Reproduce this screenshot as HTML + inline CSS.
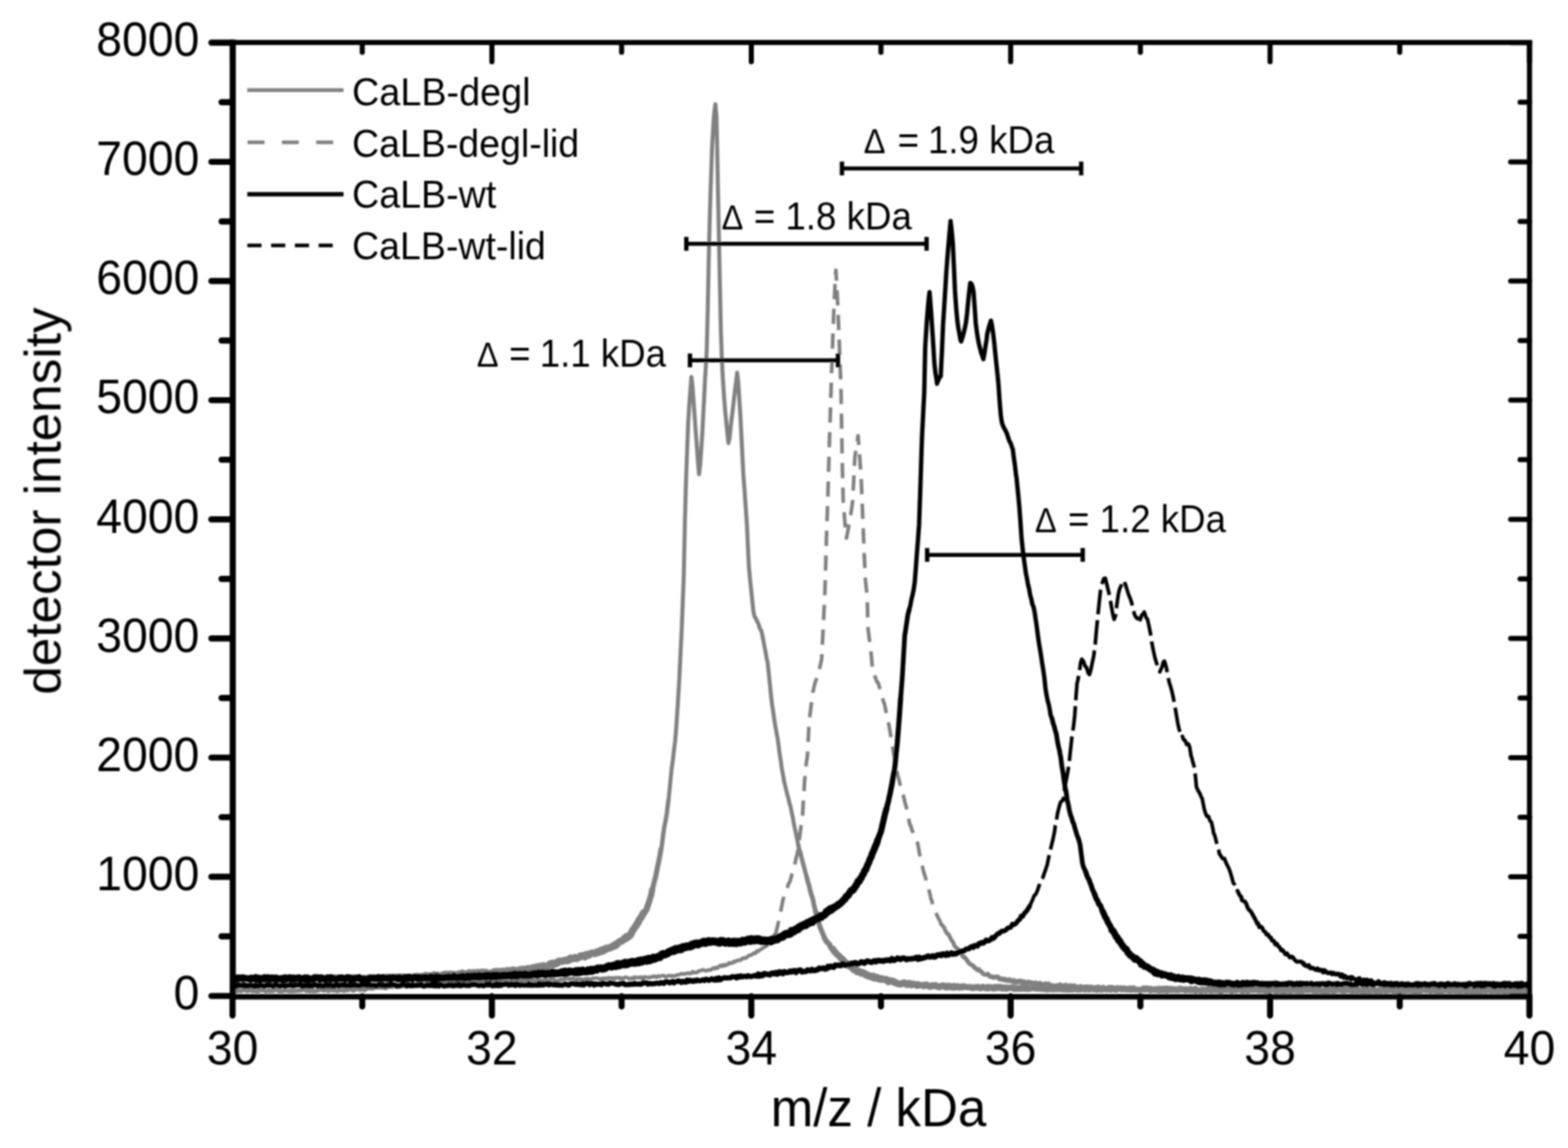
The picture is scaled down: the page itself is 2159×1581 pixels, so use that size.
<!DOCTYPE html><html><head><meta charset="utf-8"><title>CaLB mass spectra</title><style>html,body{margin:0;padding:0;background:#fff;overflow:hidden}svg{display:block}</style></head><body>
<svg width="2159" height="1581" viewBox="0 0 2159 1581">
<rect width="2159" height="1581" fill="#fff"/>
<filter id="soft" x="0" y="0" width="2159" height="1581" filterUnits="userSpaceOnUse"><feGaussianBlur stdDeviation="1.0"/></filter>
<g filter="url(#soft)">
<defs><clipPath id="pa"><rect x="320" y="58" width="1786" height="1314"/></clipPath></defs>
<g clip-path="url(#pa)" fill="none" stroke-linejoin="round" stroke-linecap="butt">
<path d="M594 1355.1 L596 1353.6 L598 1354.5 L600 1353.7 L602 1353.1 L604 1352.8 L606 1355.2 L608 1354.5 L610 1353.1 M610 1353.1 L612 1353.2 L614 1353.7 L616 1354.7 L618 1352.6 L620 1355 L622 1354.8 L624 1352.8 L626 1353.9 M626 1353.9 L628 1353 L630 1353.9 L632 1352.1 L634 1353.1 L636 1353.4 L638 1353.4 L640 1353.5 L642 1354 M642 1354 L644 1352.1 L646 1351.8 L648 1352.4 L650 1352.9 L652 1353.9 L654 1353.1 L656 1353.1 L658 1353.7 M658 1353.7 L660 1351.7 L662 1351.6 L664 1352 L666 1351.6 L668 1352.5 L670 1353.3 L672 1351 L674 1351.9 M674 1351.9 L676 1352.3 L678 1351.7 L680 1352.8 L682 1352.3 L684 1352.6 L686 1350.4 L688 1350.5 L690 1350.1 M690 1350.1 L692 1352.2 L694 1352.5 L696 1349.8 L698 1351.9 L700 1351.6 L702 1352.1 L704 1350.3 L706 1351.4 M706 1351.4 L708 1350.1 L710 1349.6 L712 1351.4 L714 1349.4 L716 1351.1 L718 1349.9 L720 1350.5 L722 1351.5 M722 1351.5 L724 1349.7 L726 1350.2 L728 1349.9 L730 1349.4 L732 1350.1 L734 1349.2 L736 1350.9 L738 1350.4 M738 1350.4 L740 1349.4 L742 1351.3 L744 1349.5 L746 1350.3 L748 1350.4 L750 1349.1 L752 1348.3 L754 1350.7 M754 1350.7 L756 1350.9 L758 1348.6 L760 1348.5 L762 1349.2 L764 1349.7 L766 1350.7 L768 1350.6 L770 1350.6 M770 1350.6 L772 1348.5 L774 1349.4 L776 1348.9 L778 1348.3 L780 1347.8 L782 1348 L784 1348.5 L786 1347.7 M786 1347.7 L788 1347.8 L790 1347.5 L792 1349 L794 1348.6 L796 1347.9 L798 1348.6 L800 1348.3 L802 1348.9 M802 1348.9 L804 1349.6 L806 1347.9 L808 1348.7 L810 1347.5 L812 1349.5 L814 1348.5 L816 1347.2 L818 1347.4 M818 1347.4 L820 1347.1 L822 1347.1 L824 1347.4 L826 1348.8 L828 1347.7 L830 1347.2 L832 1347.5 L834 1347.1 M834 1347.1 L836 1348.3 L838 1346.4 L840 1347 L842 1347.1 L844 1346.6 L846 1348.1 L848 1346.5 L850 1346.8 M850 1346.8 L852 1346.1 L854 1348 L856 1346.8 L858 1347.6 L860 1346.3 L862 1345.7 L864 1346.5 L866 1347.8 M866 1347.8 L868 1347.9 L870 1346.5 L872 1347.8 L874 1345.5 L876 1346.8 L878 1346 L880 1346.5 L882 1345.8 M882 1345.8 L884 1347.6 L885 1345.9 L886 1347.7 L888 1345.2 L890 1346 L892 1345.9 L894 1346.5 L896 1345.4 M896 1345.4 L898 1345.7 L900 1344.3 L902 1344.9 L904 1345.9 L906 1344 L908 1344.9 L910 1344.1 L912 1343.8 M912 1343.8 L914 1343.5 L916 1345.3 L918 1344.8 L920 1343.8 L922 1343.7 L924 1344.4 L926 1343.7 L928 1344.3 M928 1344.3 L930 1344 L932 1342.5 L934 1342.7 L936 1342 L938 1341.1 L940 1341.2 L942 1341.6 L944 1340.8 M944 1340.8 L946 1340.7 L948 1340 L950 1341 L952 1340.2 L954 1338 L956 1339.6 L958 1339.6 L960 1339 M960 1339 L962 1337.3 L964 1337 L966 1336.3 L968 1335.5 L970 1336.3 L972 1337 L974 1336.4 L976 1335.8 M976 1335.8 L978 1336 L980 1334.9 L982 1333.1 L984 1334.1 L986 1332.3 L988 1333.2 L990 1331 L992 1329.7 M992 1329.7 L994 1330.9 L996 1328.6 L998 1330.1 L1000 1328.2 L1002 1328.6 L1004 1325.9 L1006 1326.7 L1008 1326.4 M1008 1326.4 L1010 1324.2 L1012 1324.9 L1014 1323 L1016 1322.8 L1018 1322.3 L1020 1322.3 L1022 1320 L1024 1319.2 M1024 1319.2 L1026 1319.9 L1028 1318.7 L1030 1317 L1032 1315.5 L1034 1315.6 L1036 1314 L1038 1312.5 L1040 1313 M1040 1313 L1042 1309.8 L1044 1310.2 L1046 1308.3 L1048 1307.1 L1050 1305.8 L1052 1304.6 L1054 1303.6 L1056 1302.2 M1056 1302.2 L1058 1298.9 L1060 1297.1 L1062 1296.1 L1064 1291 L1066 1287.8" stroke="#808080" stroke-width="5.0" stroke-linecap="round"/>
<path d="M578 1356 L580 1354.7 L582 1356.3 L584 1355.1 L586 1356.1 L588 1353.4 L590 1355.7 L592 1354.7 L594 1355.1" stroke="#808080" stroke-width="5.5" stroke-linecap="round"/>
<path d="M322 1363.8 L324 1363.9 L326 1365.4 L328 1363.3 L330 1364.8 L332 1365.1 L334 1363.6 L336 1363.2 L338 1363.8 M338 1363.8 L340 1364.9 L342 1364.6 L344 1363.5 L346 1364.2 L348 1364.9 L350 1364.2 L352 1364.8 L354 1365.7 M354 1365.7 L356 1364.9 L358 1364.1 L360 1363.5 L362 1363.9 L364 1364.4 L366 1365.5 L368 1365.1 L370 1363.8 M370 1363.8 L372 1365.5 L374 1364.2 L376 1364.9 L378 1363.2 L380 1363.2 L382 1363.5 L384 1365.4 L386 1364.8 M386 1364.8 L388 1365.3 L390 1364.7 L392 1364 L394 1364.3 L396 1364.5 L398 1365.2 L400 1364.1 L402 1365.3 M402 1365.3 L404 1364.5 L406 1365.1 L408 1364.2 L410 1364.7 L412 1363.7 L414 1364.2 L416 1363.4 L418 1363 M418 1363 L420 1362.8 L422 1364.7 L424 1364 L426 1365.2 L428 1365 L430 1363.8 L432 1365.4 L434 1364.3 M434 1364.3 L436 1364.8 L438 1363.8 L440 1363.2 L442 1363.1 L444 1363.1 L446 1364.3 L448 1362.9 L450 1362.7 M450 1362.7 L452 1364.9 L454 1362.8 L456 1363.7 L458 1363.8 L460 1364.1 L462 1363.7 L464 1364.9 L466 1364.3 M466 1364.3 L468 1363.7 L470 1363.8 L472 1363.4 L474 1364.6 L476 1362.5 L478 1363.7 L480 1363.3 L482 1361.8 M482 1361.8 L484 1362.5 L486 1364.2 L488 1363.7 L490 1361.5 L492 1362.2 L494 1361.3 L496 1363.6 L498 1361.5 M498 1361.5 L500 1361.3 L502 1363.7 L504 1362 L506 1361.4 L508 1360.5 L510 1361.3 L512 1361 L514 1361.2 M514 1361.2 L516 1359.6 L518 1359.8 L520 1359.7 L522 1360.2 L524 1359.6 L526 1360.2 L528 1359.1 L530 1360.7 M530 1360.7 L532 1360.6 L534 1357.9 L536 1358.1 L538 1358.9 L540 1359.3 L542 1357.1 L544 1357.3 L546 1357.8 M546 1357.8 L548 1358.3 L550 1358.7 L552 1358.4 L554 1358.1 L556 1355.8 L558 1358.2 L560 1357 L562 1355.4 M562 1355.4 L564 1355.7 L566 1356.5 L568 1355.7 L570 1355.7 L572 1356.5 L574 1356.4 L576 1355.4 L578 1356" stroke="#808080" stroke-width="6.0" stroke-linecap="round"/>
<path d="M1296 1272.9 L1298 1274.7 L1300 1277.7 L1302 1282 L1304 1285.8 L1306 1286.5 L1308 1290.8 L1310 1294.8 L1312 1297.1 M1312 1297.1 L1314 1302.3 L1316 1304.7 L1318 1305.9 L1320 1308.6 L1322 1311 L1324 1314.3 L1326 1318 L1328 1318.2" stroke="#808080" stroke-width="5.5" stroke-linecap="round"/>
<path d="M1328 1318.2 L1330 1320.6 L1332 1323.1 L1334 1326.3 L1336 1327.6 L1338 1329.1 L1340 1329.8 L1342 1333.1 L1344 1333.6 M1344 1333.6 L1346 1336.1 L1348 1335.1 L1350 1337.7 L1352 1338.8 L1354 1341.4 L1355.7 1342 L1358 1342.2 L1360 1341.8" stroke="#808080" stroke-width="6.0" stroke-linecap="round"/>
<path d="M1360 1341.8 L1362 1343.8 L1364 1344.9 L1366 1345.1 L1368 1346.2 L1370 1345.7 L1372 1345.4 L1374 1345.6 L1376 1347.8" stroke="#808080" stroke-width="6.5" stroke-linecap="round"/>
<path d="M1376 1347.8 L1378 1348.3 L1380 1348.3 L1382 1349.2 L1384 1348.8 L1386 1350.2 L1388 1350.2 L1390 1349.3 L1392 1350.7 M1392 1350.7 L1394 1351.3 L1396 1350.4 L1398 1352.8 L1400 1352.9 L1402 1351.2 L1404 1351.7 L1406 1351.3 L1408 1354.1 M1408 1354.1 L1410 1352.2 L1412 1354.2 L1414 1353.5 L1416 1352.5 L1418 1353.1 L1420 1353.4 L1422 1355 L1424 1354.1 M1424 1354.1 L1426 1353.7 L1428 1356.1 L1430 1355.1 L1432 1354.1 L1434 1356.8 L1436 1356.2 L1438 1355.7 L1440 1355.1 M1440 1355.1 L1442 1356.8 L1444 1355.3 L1446 1357.9 L1448 1357.5 L1450 1357.6 L1452 1357.9 L1454 1358.3 L1456 1357.3 M1456 1357.3 L1458 1358.4 L1460 1356.5 L1462 1358.3 L1464 1358.6 L1466 1357.2 L1468 1357 L1470 1359.4 L1472 1359.5 M1472 1359.5 L1474 1357.4 L1476 1358.9 L1478 1357.8 L1480 1358 L1482 1360.2 L1484 1359.5 L1486 1359.9 L1488 1358.7 M1488 1358.7 L1490 1360.2 L1492 1360 L1494 1359.2 L1496 1359.8 L1498 1359.2 L1500 1360.3 L1502 1359.2 L1504 1360 M1504 1360 L1506 1361.2 L1508 1360.8 L1510 1360.7 L1512 1359.4 L1514 1361.5 L1516 1361 L1518 1362 L1520 1362.1 M1520 1362.1 L1522 1362.1 L1524 1361.1 L1526 1361.9 L1528 1360.1 L1530 1360 L1532 1362.2 L1534 1361.9 L1536 1362.8 M1536 1362.8 L1538 1361.1 L1540 1361.7 L1542 1362.6 L1544 1362.2 L1546 1362.9 L1548 1361.7 L1550 1363.1 L1552 1363.2 M1552 1363.2 L1554 1363.4 L1556 1362.1 L1558 1363.6 L1560 1362 L1562 1362.9 L1564 1364 L1566 1363.2 L1568 1363.1 M1568 1363.1 L1570 1362.5 L1572 1363 L1574 1363.1 L1576 1363.7 L1578 1363.3 L1580 1362.8 L1582 1362.5 L1584 1364.8 M1584 1364.8 L1586 1363.9 L1588 1362.7 L1590 1363.2 L1592 1364.2 L1594 1363.1 L1596 1365 L1598 1364 L1600 1364.5 M1600 1364.5 L1602 1364.5 L1604 1363.1 L1606 1365.2 L1608 1365 L1610 1363.1 L1612 1364.3 L1614 1364.2 L1616 1363.6 M1616 1363.6 L1618 1363.8 L1620 1363.4 L1622 1364.5 L1624 1363.9 L1626 1363 L1628 1363.4 L1630 1363.2 L1632 1364.6 M1632 1364.6 L1634 1364.4 L1636 1363.9 L1638 1364.4 L1640 1364.6 L1642 1363.5 L1644 1363 L1646 1365.6 L1648 1363.4 M1648 1363.4 L1650 1363.6 L1652 1364.9 L1654 1365.7 L1656 1363.3 L1658 1364.1 L1660 1365.3 L1662 1363.2 L1664 1363.7 M1664 1363.7 L1666 1364.7 L1668 1365.3 L1670 1363.3 L1672 1364.2 L1674 1364.7 L1676 1364.6 L1678 1364.5 L1680 1365.8 M1680 1365.8 L1682 1365.8 L1684 1363.7 L1686 1363.8 L1688 1364.2 L1690 1363.4 L1692 1363.5 L1694 1364.7 L1696 1365.9 M1696 1365.9 L1698 1364 L1700 1363.7 L1702 1364.9 L1704 1364 L1706 1363.2 L1708 1363.5 L1710 1365.7 L1712 1363.5 M1712 1363.5 L1714 1365 L1716 1364.4 L1718 1365.4 L1720 1364.7 L1722 1363.9 L1724 1363.9 L1726 1363.9 L1728 1364 M1728 1364 L1730 1364 L1732 1364.2 L1734 1365 L1736 1364.8 L1738 1363.5 L1740 1364.5 L1742 1366 L1744 1366 M1744 1366 L1746 1364.3 L1748 1363.8 L1750 1364.2 L1752 1363.8 L1754 1364.1 L1756 1366 L1758 1365.9 L1760 1364.7 M1760 1364.7 L1762 1365 L1764 1365.4 L1766 1365.4 L1768 1365.4 L1770 1365.5 L1772 1365.1 L1774 1363.9 L1776 1365.4 M1776 1365.4 L1778 1365.4 L1780 1364 L1782 1364.1 L1784 1365.3 L1786 1364.6 L1788 1365.8 L1790 1364.3 L1792 1365.4 M1792 1365.4 L1794 1365.3 L1796 1363.9 L1798 1364.4 L1800 1364.6 L1802 1364.4 L1804 1363.9 L1806 1364.3 L1808 1365.1 M1808 1365.1 L1810 1364.2 L1812 1365.4 L1814 1364.8 L1816 1364.9 L1818 1364.2 L1820 1365.8 L1822 1363.8 L1824 1366.2 M1824 1366.2 L1826 1365.3 L1828 1366.2 L1830 1365.1 L1832 1364.6 L1834 1364.6 L1836 1366.2 L1838 1365.1 L1840 1364.7 M1840 1364.7 L1842 1364 L1844 1364 L1846 1364.8 L1848 1364.9 L1850 1365.9 L1852 1363.9 L1854 1364.9 L1856 1364 M1856 1364 L1858 1364.3 L1860 1365 L1862 1366.1 L1864 1364 L1866 1364.1 L1868 1365.6 L1870 1365.1 L1872 1363.8 M1872 1363.8 L1874 1365.5 L1876 1366.3 L1878 1365.7 L1880 1366.4 L1882 1365.7 L1884 1364.5 L1886 1365.8 L1888 1365.2 M1888 1365.2 L1890 1363.9 L1892 1364.6 L1894 1366.2 L1896 1365.4 L1898 1364.6 L1900 1365.6 L1902 1365.5 L1904 1364 M1904 1364 L1906 1364.9 L1908 1365.9 L1910 1363.9 L1912 1365.1 L1914 1363.9 L1916 1364.4 L1918 1365.7 L1920 1364.6 M1920 1364.6 L1922 1365.9 L1924 1365.6 L1926 1365.4 L1928 1364 L1930 1364.9 L1932 1366.1 L1934 1365.4 L1936 1363.8 M1936 1363.8 L1938 1365 L1940 1364.9 L1942 1365 L1944 1364.8 L1946 1365.9 L1948 1365.1 L1950 1366 L1952 1366.3 M1952 1366.3 L1954 1366.1 L1956 1365.8 L1958 1363.7 L1960 1363.6 L1962 1364.1 L1964 1365 L1966 1364.4 L1968 1364 M1968 1364 L1970 1366.2 L1972 1364.8 L1974 1364.2 L1976 1365 L1978 1366.3 L1980 1365.6 L1982 1366.2 L1984 1363.9 M1984 1363.9 L1986 1365.7 L1988 1364.5 L1990 1364.6 L1992 1364.9 L1994 1364.9 L1996 1365.8 L1998 1364.4 L2000 1364.9 M2000 1364.9 L2002 1364.8 L2004 1365.3 L2006 1365.2 L2008 1363.7 L2010 1366 L2012 1365.4 L2014 1364 L2016 1365 M2016 1365 L2018 1366.1 L2020 1366.1 L2022 1364.7 L2024 1364.3 L2026 1366.3 L2028 1365.7 L2030 1365.5 L2032 1364.7 M2032 1364.7 L2034 1366 L2036 1364.1 L2038 1365.9 L2040 1365.8 L2042 1365.1 L2044 1364.6 L2046 1365.5 L2048 1364.7 M2048 1364.7 L2050 1364.8 L2052 1364.4 L2054 1365.8 L2056 1364 L2058 1365 L2060 1364.8 L2062 1366.4 L2064 1363.9 M2064 1363.9 L2066 1365.2 L2068 1364.2 L2070 1366.3 L2072 1364 L2074 1366.2 L2076 1365.4 L2078 1364.1 L2080 1364.8 M2080 1364.8 L2082 1364.4 L2084 1364.9 L2086 1365.9 L2088 1364.9 L2090 1366.4 L2092 1366.2 L2094 1364.2 L2096 1364 M2096 1364 L2098 1365.5 L2100 1364.6 L2102 1364.3 L2104 1366.2" stroke="#808080" stroke-width="7.0" stroke-linecap="round"/>
<path d="M1066 1287.8 L1068 1285.9 L1070 1278.2 L1072 1269.2 L1073.1 1263.5 L1074 1258.7 L1076 1250.1 L1078 1239.5 L1080 1233.2 L1082 1226.5 L1084 1222.2 L1085.5 1217.9 L1088 1213.1 L1090 1205.3 L1092 1199 L1094 1192.4 L1096 1182.7 L1097.9 1175.1 L1100 1160.5 L1101.4 1149.5 L1104 1129.1 L1105 1123.2 L1106 1106.1 L1108 1073 L1110 1052.6 L1111.9 1039.4 L1114 994.5 L1116 978.6 L1118 962.7 L1119.4 952.5 L1122 941.2 L1124 935.7 L1126 930.4 L1128 922.3 L1130 913.7 L1131.3 907.7 L1134 854.5 L1136 810.4 L1137.8 745.7 L1140 680 L1142 610.1 L1144 546.4 L1145 514.3 L1146 486.3 L1148 429.3 L1150 387.1 L1150.9 371.9 L1152 389.9 L1153.8 426.9 L1156 481.8 L1158 538.9 L1159.6 631.4 L1161 687.9 L1162 701.6 L1164 727.6 L1165.5 741.1 L1168 728.2 L1170 715.8 L1172 704.7 L1174 690.6 L1176 652.3 L1177 630.1 L1178 623.7 L1180 609.1 L1181.5 599.9 L1184 633 L1185.8 659.8 L1188 713.8 L1190 764.2 L1191.6 798.7 L1194 820.8 L1195.2 865.7 L1198 887.8 L1199.5 900.4 L1201.6 925 L1204 929.1 L1206 935.2 L1208 940 L1209.2 940.1 L1212 950.2 L1214 957.7 L1216 964.5 L1218 970.2 L1220 980.2 L1222 988.9 L1224 998.5 L1225.3 1006 L1228 1022.3 L1230 1034.8 L1232 1045.9 L1234 1055.6 L1236 1068 L1238 1074.7 L1240 1082.7 L1242 1087.7 L1244 1096.3 L1246 1104.9 L1248 1111.9 L1250 1120.9 L1252 1132.3 L1253 1136.5 L1254 1137.1 L1256 1144.2 L1258 1147.6 L1260 1152.8 L1262 1157.7 L1263.6 1161.5 L1266 1174.9 L1268 1184.5 L1268.9 1189.8 L1270 1193.2 L1272 1201.5 L1274 1207.7 L1276 1215 L1278 1222.9 L1280 1228.9 L1282 1238.5 L1283.1 1240.7 L1284 1245.3 L1286 1248 L1288 1254.9 L1290 1260.1 L1292 1264.4 L1293.7 1267.2 L1296 1272.9" stroke="#808080" stroke-width="5.0" stroke-dasharray="21 13"/>
<path d="M920.5 1101.2 L922 1086.9 L923.5 1071.6 L924.7 1059.4 L926.5 1046.4 L928 1033.4 L929.5 1021.6 L931 1004.2 L932.5 981.3 M932.5 981.3 L934 957.8 L935.5 931.9 L937 899.8 L938.5 870.5 L940 832.1 L941.5 793 L943 720.7 L944.5 664.9 M944.5 664.9 L946 622.9 L947.5 584.5 L949 558.4 L950.5 538.4 L952 519 L953.5 531.7 L955 553.1 L956.5 573.7 M956.5 573.7 L957.7 591 L959.5 614.6 L961 635.2 L962.5 653.1 L964 640.7 L965.5 619.6 L966.8 600.8 L968.5 567.7 M968.5 567.7 L970 538.5 L970.9 520.4 L973 485.6 L974.5 426.6 L976 351.4 L977.5 292.9 L978.5 259.7 L980.5 202 M980.5 202 L982 176.5 L983 160.2 L985 143.4 L986.5 160.6 L987.5 203.2 L988.5 259.8 L989.5 307.3 L991 379.8 M991 379.8 L992.5 452.2 L994 496 L995.5 524.3 L997 546.8 L998.5 566 L1000 581.1 L1001.5 596.5 L1003 610.2 M1003 610.2 L1004.5 603.7 L1006 588.7 L1007.5 575.7 L1009 564.1 L1010.5 550.5 L1012 537.1 L1013.5 526.3 L1015 513.3 M1015 513.3 L1016.5 526.1 L1018 549.9 L1019.4 571.7 L1021 603.1 L1022.5 633.2 L1023.5 652.9 L1025.5 679.8 L1027 701.7 M1027 701.7 L1028.5 723.8 L1030 756.1 L1031.2 781.1 L1033 800.5 L1034.5 813.7 L1036 829 L1037.5 842.7 L1039 849.1 M1039 849.1 L1040.5 851.5 L1042 854.6 L1043.5 857.3 L1045 861.4 L1046.5 866.2 L1048 867.8 L1049.5 874.1 L1051 881.8 M1051 881.8 L1052.5 889.8 L1054 897 L1055.5 906.4 L1057 912.6 L1058.5 927 L1060 941.7 L1061.5 956.4 L1063 970.2 M1063 970.2 L1064.5 979.1 L1066 990.4 L1067.5 999.4 L1069 1007.9 L1070.5 1016 L1072 1025.8 L1073.5 1038.3 L1075 1047.4 M1075 1047.4 L1076.5 1058.8 L1078 1066.5 L1079.5 1075.5 L1081 1081.7 L1081.9 1085.3 L1084 1094.1 L1085.5 1099.4 L1087 1106.1 M1087 1106.1 L1088.5 1110.6 L1090 1118.4 L1091.5 1125.5 L1093 1134.1 L1094.3 1140.3 L1096 1147.9 L1097.5 1155.6 L1099 1163" stroke="#808080" stroke-width="5.5" stroke-linecap="round"/>
<path d="M910 1170.1 L911 1166.4 L913 1150.7 L914.5 1139.8 L916 1132.7 L917.5 1124.1 L918.3 1119.4 L919 1113.2 L920.5 1101.2 M1099 1163 L1100.5 1170.5 L1102 1174.2 L1103.5 1180.6 L1105 1186.4 L1106.5 1191.8 L1108 1197.8 L1109.5 1203.2 L1111 1208.6" stroke="#808080" stroke-width="6.0" stroke-linecap="round"/>
<path d="M1111 1208.6 L1112.5 1215 L1113.8 1218.8 L1115.5 1225.9 L1117 1231.9 L1118.5 1235.8 L1120 1242 L1120.9 1247 L1123 1255" stroke="#808080" stroke-width="6.5" stroke-linecap="round"/>
<path d="M322 1348 L323.5 1349.3 L325 1347 L326.5 1349.2 L328 1347.4 L329.5 1347.7 L331 1348.9 L332.5 1347.7 L334 1348.1 M334 1348.1 L335.5 1346.6 L337 1348.6 L338.5 1348 L340 1347.4 L341.5 1348.7 L343 1347.3 L344.5 1347.7 L346 1346.8 M346 1346.8 L347.5 1347.6 L349 1347 L350.5 1347.2 L352 1348.5 L353.5 1347.2 L355 1347.8 L356.5 1349.1 L358 1349.1 M358 1349.1 L359.5 1348.4 L361 1347.9 L362.5 1347.1 L364 1346.8 L365.5 1349 L367 1347.8 L368.5 1346.6 L370 1348 M370 1348 L371.5 1348.5 L373 1348 L374.5 1348.8 L376 1346.4 L377.5 1347.7 L379 1347.5 L380.5 1346.4 L382 1348 M382 1348 L383.5 1348.6 L385 1347.9 L386.5 1346.9 L388 1348.5 L389.5 1347.6 L391 1347.6 L392.5 1348.3 L394 1346.6 M394 1346.6 L395.5 1348.4 L397 1348 L398.5 1348.3 L400 1346.6 L401.5 1348.3 L403 1346.6 L404.5 1346.3 L406 1348.4 M406 1348.4 L407.5 1348.4 L409 1348.4 L410.5 1347.3 L412 1346.7 L413.5 1346 L415 1347.7 L416.5 1347.9 L418 1348.2 M418 1348.2 L419.5 1346.7 L421 1346.5 L422.5 1347.6 L424 1348.1 L425.5 1348.5 L427 1346.2 L428.5 1347.1 L430 1348.2 M430 1348.2 L431.5 1346.9 L433 1347.4 L434.5 1345.8 L436 1347.6 L437.5 1348.2 L439 1347.9 L440.5 1348.1 L442 1347.4 M442 1347.4 L443.5 1346.3 L445 1347.7 L446.5 1346.1 L448 1347.8 L449.5 1345.7 L451 1347.8 L452.5 1345.9 L454 1346.5 M454 1346.5 L455.5 1346.3 L457 1347.3 L458.5 1345.9 L460 1346.5 L461.5 1345.4 L463 1346.1 L464.5 1346.5 L466 1345.6 M466 1345.6 L467.5 1347 L469 1346.3 L470.5 1347.3 L472 1347 L473.5 1346.4 L475 1347.6 L476.5 1346.9 L478 1347.4 M478 1347.4 L479.5 1346.1 L481 1346.6 L482.5 1345.6 L484 1347.8 L485.5 1345.7 L487 1345.7 L488.5 1345.2 L490 1345.6 M490 1345.6 L491.5 1347 L493 1346.8 L494.5 1345.2 L496 1345.9 L497.5 1346 L499 1346.6 L500.5 1346 L502 1346.4 M502 1346.4 L503.5 1347 L505 1346.7 L506.5 1345.6 L508 1345.9 L509.5 1345.6 L511 1344.9 L512.5 1345.1 L514 1345.3 M514 1345.3 L515.5 1345.3 L517 1345.3 L518.5 1346 L520 1347.1 L521.5 1346.5 L523 1346.5 L524.5 1346.4 L526 1345.9 M526 1345.9 L527.5 1346.8 L529 1346.1 L530.5 1345.6 L532 1344.4 L533.5 1345.5 L535 1344.7 L536.5 1344.4 L538 1345.5 M538 1345.5 L539.5 1346.2 L541 1344.8 L542.5 1346.1 L544 1345.4 L545.5 1344.3 L547 1346.6 L548.5 1345 L550 1344.6 M550 1344.6 L551.5 1346.1 L553 1344.1 L554.5 1345.8 L556 1344.2 L557.5 1344.8 L559 1344.3 L560 1346 L562 1344.6 M562 1344.6 L563.5 1346.2 L565 1345.1 L566.5 1345.2 L568 1344.7 L569.5 1344 L571 1344.2 L572.5 1345.7 L574 1343.5 M898 1225.2 L899.5 1220.1 L901 1213.9 L902.5 1208.5 L904 1201.3 L905.5 1193.2 L907 1186.4 L908.5 1178.9 L910 1170.1 M1123 1255 L1124.5 1260.8 L1126 1263.8 L1127.5 1271.5 L1129 1276.3 L1130.5 1280.2 L1132 1283.6 L1133.5 1287.3 L1135 1291.2 M1927 1362.2 L1928.5 1362.4 L1930 1362.9 L1931.5 1363.8 L1933 1363.4 L1934.5 1361.7 L1936 1362.9 L1937.5 1362.1 L1939 1364 M1939 1364 L1940.5 1364.1 L1942 1363.2 L1943.5 1363.7 L1945 1363.5 L1946.5 1363.9 L1948 1362.4 L1949.5 1362.2 L1951 1363.7 M1951 1363.7 L1952.5 1364.3 L1954 1362.2 L1955.5 1363.2 L1957 1363.1 L1958.5 1362.6 L1960 1363.7 L1961.5 1362 L1963 1362.6 M1963 1362.6 L1964.5 1362.8 L1966 1364.3 L1967.5 1363.5 L1969 1363.6 L1970.5 1364.4 L1972 1362.2 L1973.5 1363.3 L1975 1361.9 M1975 1361.9 L1976.5 1362.1 L1978 1363.5 L1979.5 1363.9 L1981 1363.4 L1982.5 1363.2 L1984 1363.8 L1985.5 1364.3 L1987 1364.2 M1987 1364.2 L1988.5 1363.9 L1990 1362.8 L1991.5 1363.7 L1993 1362.3 L1994.5 1364.1 L1996 1362.4 L1997.5 1364.3 L1999 1362.4 M1999 1362.4 L2000.5 1362.3 L2002 1362.5 L2003.5 1363 L2005 1362.2 L2006.5 1362.3 L2008 1364.1 L2009.5 1364.2 L2011 1362 M2011 1362 L2012.5 1362.8 L2014 1362.8 L2015.5 1363.9 L2017 1363.4 L2018.5 1362.7 L2020 1363.8 L2021.5 1363.3 L2023 1362.2 M2023 1362.2 L2024.5 1363.8 L2026 1362.9 L2027.5 1364.1 L2029 1363.5 L2030.5 1362 L2032 1363.7 L2033.5 1363.2 L2035 1363.1 M2035 1363.1 L2036.5 1362.8 L2038 1363.5 L2039.5 1361.8 L2041 1363 L2042.5 1364.2 L2044 1362.2 L2045.5 1362 L2047 1362.7 M2047 1362.7 L2048.5 1363.1 L2050 1362.7 L2051.5 1363 L2053 1363.5 L2054.5 1363.8 L2056 1361.7 L2057.5 1362.7 L2059 1363.3 M2059 1363.3 L2060.5 1361.7 L2062 1364.3 L2063.5 1363.4 L2065 1363 L2066.5 1362.9 L2068 1362 L2069.5 1361.8 L2071 1363.5 M2071 1363.5 L2072.5 1364.2 L2074 1363.8 L2075.5 1361.7 L2077 1361.7 L2078.5 1363 L2080 1363.2 L2081.5 1363.3 L2083 1364.1 M2083 1364.1 L2084.5 1364.1 L2086 1364.4 L2087.5 1362.5 L2089 1362.9 L2090.5 1364.4 L2092 1363.6 L2093.5 1361.8 L2095 1364.1 M2095 1364.1 L2096.5 1363.3 L2098 1362.1 L2099.5 1362.6 L2101 1363.2 L2102.5 1363.4 L2104 1362.8" stroke="#808080" stroke-width="7.0" stroke-linecap="round"/>
<path d="M574 1343.5 L575.5 1345.6 L577 1344.9 L578.5 1343.7 L580 1344.4 L581.5 1343.6 L583 1343.6 L584.5 1343.8 L586 1342.4 M1135 1291.2 L1136 1293.2 L1138 1296.8 L1139.5 1298.1 L1141 1299.4 L1142.5 1301.2 L1144 1305.3 L1145.5 1306.7 L1147 1306.9 M1723 1363.2 L1724.5 1362.4 L1726 1363.7 L1727.5 1361.8 L1729 1362.7 L1730.5 1363.8 L1732 1362.7 L1733.5 1363.1 L1735 1361.7 M1735 1361.7 L1736.5 1362.3 L1738 1364.1 L1739.5 1363.3 L1741 1362.5 L1742.5 1362.9 L1744 1363.7 L1745.5 1363.7 L1747 1363.8 M1747 1363.8 L1748.5 1362.3 L1750 1362.2 L1751.5 1363.3 L1753 1363 L1754.5 1363.1 L1756 1362.1 L1757.5 1362.4 L1759 1363.6 M1759 1363.6 L1760.5 1362.5 L1762 1363.6 L1763.5 1361.7 L1765 1364.2 L1766.5 1362.1 L1768 1362.9 L1769.5 1364.1 L1771 1362.3 M1771 1362.3 L1772.5 1362.2 L1774 1364.3 L1775.5 1364.1 L1777 1363 L1778.5 1361.7 L1780 1363.3 L1781.5 1362.3 L1783 1362.2 M1783 1362.2 L1784.5 1364.2 L1786 1363.3 L1787.5 1362.8 L1789 1361.8 L1790.5 1362.6 L1792 1364 L1793.5 1362.4 L1795 1362.5 M1795 1362.5 L1796.5 1363.3 L1798 1362.3 L1799.5 1363.2 L1801 1363.8 L1802.5 1362.4 L1804 1362.9 L1805.5 1363.2 L1807 1362.6 M1807 1362.6 L1808.5 1362.2 L1810 1361.9 L1811.5 1363.2 L1813 1364.2 L1814.5 1361.7 L1816 1364 L1817.5 1364.3 L1819 1363.1 M1819 1363.1 L1820.5 1364.3 L1822 1363.6 L1823.5 1363.1 L1825 1362.9 L1826.5 1362.9 L1828 1363.5 L1829.5 1362.3 L1831 1363.6 M1831 1363.6 L1832.5 1363 L1834 1363.5 L1835.5 1364.2 L1837 1362.3 L1838.5 1362.7 L1840 1362.4 L1841.5 1361.7 L1843 1363.3 M1843 1363.3 L1844.5 1363.4 L1846 1364.4 L1847.5 1363.3 L1849 1362.7 L1850.5 1364.1 L1852 1361.6 L1853.5 1362.4 L1855 1363.7 M1855 1363.7 L1856.5 1362.1 L1858 1362.6 L1859.5 1364 L1861 1362.6 L1862.5 1362.3 L1864 1364.1 L1865.5 1361.8 L1867 1364 M1867 1364 L1868.5 1362.5 L1870 1362.2 L1871.5 1363 L1873 1363 L1874.5 1364.3 L1876 1363.7 L1877.5 1362.9 L1879 1363.2 M1879 1363.2 L1880.5 1362.5 L1882 1364.4 L1883.5 1362.7 L1885 1364.1 L1886.5 1363.4 L1888 1364.2 L1889.5 1362.6 L1891 1362.8 M1891 1362.8 L1892.5 1362.6 L1894 1363.9 L1895.5 1364.3 L1897 1363.9 L1898.5 1362.9 L1900 1363.9 L1901.5 1363.6 L1903 1363.1 M1903 1363.1 L1904.5 1362.1 L1906 1362.3 L1907.5 1363.6 L1909 1362.2 L1910.5 1363.2 L1912 1363.9 L1913.5 1363.4 L1915 1363.3 M1915 1363.3 L1916.5 1362.3 L1918 1361.9 L1919.5 1361.7 L1921 1361.7 L1922.5 1362.2 L1924 1363.2 L1925.5 1362.8 L1927 1362.2" stroke="#808080" stroke-width="7.5" stroke-linecap="round"/>
<path d="M586 1342.4 L587.5 1343.6 L589 1344.9 L590.5 1342.9 L592 1344.1 L593.5 1343.2 L595 1342.5 L596.5 1344.3 L598 1341.8 M1519 1360.6 L1520.5 1361.9 L1522 1362.2 L1523.5 1363.1 L1525 1362 L1526.5 1360.8 L1528 1363.2 L1529.5 1363.3 L1531 1362 M1531 1362 L1532.5 1360.8 L1534 1363 L1535.5 1362.7 L1537 1363.4 L1538.5 1360.7 L1540 1361.9 L1541.5 1361.5 L1543 1361 M1543 1361 L1544.5 1362.8 L1546 1361.7 L1547.5 1360.9 L1549 1361.1 L1550.5 1363 L1552 1362.5 L1553.5 1361.4 L1555 1362.7 M1555 1362.7 L1556.5 1361.2 L1558 1362.7 L1559.5 1362.7 L1561 1360.9 L1562.5 1362.3 L1564 1362.9 L1565.5 1363 L1567 1362.9 M1567 1362.9 L1568.5 1363.4 L1570 1363 L1571.5 1363.5 L1573 1362.1 L1574.5 1361 L1576 1361.4 L1577.5 1361.8 L1579 1361.1 M1579 1361.1 L1580.5 1361.3 L1582 1362.4 L1583.5 1361.7 L1585 1361.8 L1586.5 1363.1 L1588 1363.4 L1589.5 1363.4 L1591 1362.1 M1591 1362.1 L1592.5 1363 L1594 1363.4 L1595.5 1361.5 L1597 1361.6 L1598.5 1362.9 L1600 1361.8 L1601.5 1361.6 L1603 1362.1 M1603 1362.1 L1604.5 1361.2 L1606 1362.3 L1607.5 1361.3 L1609 1361.8 L1610.5 1361.7 L1612 1362.1 L1613.5 1361.5 L1615 1362.5 M1615 1362.5 L1616.5 1363.1 L1618 1362.1 L1619.5 1363.8 L1621 1363.6 L1622.5 1362 L1624 1361.3 L1625.5 1363.3 L1627 1361.8 M1627 1361.8 L1628.5 1362.1 L1630 1362.8 L1631.5 1364 L1633 1362 L1634.5 1362.5 L1636 1363 L1637.5 1363.1 L1639 1361.8 M1639 1361.8 L1640.5 1362.9 L1642 1362.7 L1643.5 1363.1 L1645 1361.5 L1646.5 1361.6 L1648 1364 L1649.5 1363.5 L1651 1363.6 M1651 1363.6 L1652.5 1363.9 L1654 1363.9 L1655.5 1362.4 L1657 1363.4 L1658.5 1363.1 L1660 1362.8 L1661.5 1363.2 L1663 1362.2 M1663 1362.2 L1664.5 1363.7 L1666 1362.4 L1667.5 1361.7 L1669 1361.3 L1670.5 1363.1 L1672 1361.9 L1673.5 1364 L1675 1361.9 M1675 1361.9 L1676.5 1362.2 L1678 1364.1 L1679.5 1362.8 L1681 1363.9 L1682.5 1363.5 L1684 1361.7 L1685.5 1361.9 L1687 1362.4 M1687 1362.4 L1688.5 1363.8 L1690 1362.3 L1691.5 1362.6 L1693 1362.7 L1694.5 1362.3 L1696 1363.6 L1697.5 1361.5 L1699 1362 M1699 1362 L1700.5 1363.7 L1702 1363.1 L1703.5 1362.8 L1705 1362.4 L1706.5 1361.8 L1708 1362.7 L1709.5 1364.2 L1711 1363.1 M1711 1363.1 L1712.5 1363 L1714 1364.2 L1715.5 1363.9 L1717 1364.2 L1718.5 1364.1 L1720 1363.3 L1721.5 1362.3 L1723 1363.2" stroke="#808080" stroke-width="8.0" stroke-linecap="round"/>
<path d="M598 1341.8 L599.5 1342.5 L601 1344.4 L602.5 1342.2 L604 1343.8 L605.5 1343 L607 1343.5 L608.5 1342.9 L610 1342.1 M886 1257.2 L887.5 1257.2 L889 1254 L890.5 1251.8 L892 1246.5 L893.5 1243.2 L895 1237.7 L896.5 1233.1 L898 1225.2 M1315 1359.8 L1316.5 1359.7 L1318 1358.3 L1319.5 1358.5 L1321 1360.4 L1322.5 1358.7 L1324 1358.6 L1325.5 1359.8 L1327 1358.2 M1327 1358.2 L1328.5 1359.2 L1330 1358.9 L1331.5 1359.5 L1333 1359.7 L1334.5 1359.8 L1336 1359.3 L1337.5 1360.6 L1339 1360.5 M1339 1360.5 L1340.5 1360.8 L1342 1359.5 L1343.5 1360.3 L1345 1359.5 L1346.5 1359.1 L1348 1360.2 L1349.5 1361.1 L1351 1360.7 M1351 1360.7 L1352.5 1359.3 L1354 1359.2 L1355.5 1360.7 L1357 1360.6 L1358.5 1361.1 L1360 1359.1 L1361.5 1361.1 L1363 1360 M1363 1360 L1364.5 1359.5 L1366 1359.8 L1367.5 1361.6 L1369 1361.6 L1370.5 1359.2 L1372 1359.8 L1373.5 1361 L1375 1359.1 M1375 1359.1 L1376.5 1359.2 L1378 1359.2 L1379.5 1361.6 L1381 1360.1 L1382.5 1360.1 L1384 1361.5 L1385.5 1360.2 L1387 1361.4 M1387 1361.4 L1388.5 1360.4 L1390 1360.2 L1391.5 1360.5 L1393 1359.9 L1394.5 1359.7 L1396 1362 L1397.5 1362 L1399 1360.9 M1399 1360.9 L1400 1361.5 L1402 1362 L1403.5 1360.7 L1405 1361.6 L1406.5 1361.8 L1408 1359.9 L1409.5 1360.1 L1411 1361.8 M1411 1361.8 L1412.5 1361.7 L1414 1360.2 L1415.5 1362 L1417 1362 L1418.5 1360.7 L1420 1360.7 L1421.5 1360.1 L1423 1361 M1423 1361 L1424.5 1360.1 L1426 1361.3 L1427.5 1361.6 L1429 1361.5 L1430.5 1360.1 L1432 1361.6 L1433.5 1362 L1435 1360.3 M1435 1360.3 L1436.5 1361.6 L1438 1362.2 L1439.5 1360.5 L1441 1362.5 L1442.5 1362.7 L1444 1362 L1445.5 1362.4 L1447 1360.8 M1447 1360.8 L1448.5 1361.9 L1450 1362.6 L1451.5 1360.2 L1453 1362.3 L1454.5 1360.7 L1456 1362.3 L1457.5 1361.9 L1459 1362.3 M1459 1362.3 L1460.5 1361.2 L1462 1361.4 L1463.5 1362.7 L1465 1360.3 L1466.5 1360.6 L1468 1362.9 L1469.5 1362.7 L1471 1360.6 M1471 1360.6 L1472.5 1362.9 L1474 1360.9 L1475.5 1362.7 L1477 1362.8 L1478.5 1360.3 L1480 1360.3 L1481.5 1361.2 L1483 1362.9 M1483 1362.9 L1484.5 1362.5 L1486 1361.4 L1487.5 1362.7 L1489 1361.2 L1490.5 1361.3 L1492 1360.9 L1493.5 1363 L1495 1362.6 M1495 1362.6 L1496.5 1361.7 L1498 1361.1 L1499.5 1363.1 L1501 1361.5 L1502.5 1361 L1504 1361.6 L1505.5 1362.5 L1507 1362.6 M1507 1362.6 L1508.5 1360.8 L1510 1363.1 L1511.5 1362.4 L1513 1360.7 L1514.5 1362.9 L1516 1363.2 L1517.5 1362.9 L1519 1360.6" stroke="#808080" stroke-width="8.5" stroke-linecap="round"/>
<path d="M610 1342.1 L611.5 1343.2 L613 1341 L614.5 1342.1 L616 1341.8 L617.5 1342.1 L619 1341 L620 1341.2 L622 1342.1 M1147 1306.9 L1148.5 1310.5 L1150 1310.8 L1151.5 1313.5 L1153 1314.5 L1154.5 1315.9 L1156 1317.5 L1157.5 1318.9 L1159 1320.6 M1255 1356.4 L1256.5 1354.9 L1258 1355.2 L1259.5 1355.6 L1261 1356.6 L1262.5 1357.4 L1264 1355.8 L1265.5 1356.9 L1267 1356.8 M1267 1356.8 L1268.5 1356.7 L1270 1357.1 L1271.5 1357.9 L1273 1356.3 L1274.5 1357.2 L1276 1356.1 L1277.5 1357.4 L1279 1358.2 M1279 1358.2 L1280.5 1358.9 L1282 1357.5 L1283.5 1357.1 L1285 1358 L1286.5 1357.5 L1288 1356.8 L1289.5 1358 L1291 1358.9 M1291 1358.9 L1292.5 1359.2 L1294 1359.5 L1295.5 1357.9 L1297 1357.7 L1298.5 1357.3 L1300 1358.3 L1301.5 1359.4 L1303 1357.8 M1303 1357.8 L1304.5 1359.6 L1306 1359.3 L1307.5 1357.9 L1309 1359.1 L1310.5 1359.7 L1312 1360 L1313.5 1357.9 L1315 1359.8" stroke="#808080" stroke-width="9.0" stroke-linecap="round"/>
<path d="M622 1342.1 L623.5 1341.5 L625 1342.6 L626.5 1342 L628 1342.6 L629.5 1342.2 L631 1341.8 L632.5 1340.8 L634 1342.2 M1207 1346.7 L1208 1346.1 L1210 1348.4 L1211.5 1347.4 L1213 1348.8 L1214.5 1347.8 L1216 1348.6 L1217.5 1349.1 L1219 1349 M1219 1349 L1220.5 1348.8 L1222 1351.2 L1223.5 1352.1 L1225 1350.4 L1226.5 1350.6 L1228 1351.5 L1229.5 1351.1 L1231 1353 M1231 1353 L1232.5 1352.6 L1234 1353.5 L1235 1354.6 L1237 1354.7 L1238.5 1355.1 L1240 1355.3 L1241.5 1354.5 L1243 1354.4 M1243 1354.4 L1244.5 1353.3 L1246 1353.6 L1247.5 1355 L1249 1356.1 L1250.5 1355 L1252 1354 L1253.5 1354.7 L1255 1356.4" stroke="#808080" stroke-width="9.5" stroke-linecap="round"/>
<path d="M634 1342.2 L635.5 1340.6 L637 1340 L638.5 1342.5 L640 1341.2 L641.5 1341.8 L643 1341.1 L644.5 1341.2 L646 1339.5 M646 1339.5 L647.5 1339.9 L649 1341.2 L650.5 1340.8 L652 1339.6 L653.5 1341.8 L655 1339.5 L656.5 1340.4 L658 1339.3 M658 1339.3 L659.5 1340.8 L661 1339.5 L662.5 1339.1 L664 1338.8 L665.5 1339.1 L667 1339 L668.5 1339.9 L670 1339.6 M670 1339.6 L671.5 1341 L673 1340.9 L674.5 1340.4 L676 1340 L677.5 1340.4 L679 1340.6 L680.5 1337.9 L682 1338.1 M682 1338.1 L683.5 1338.7 L685 1337.9 L686 1339.3 L688 1338.2 L689.5 1338.1 L691 1338 L692.5 1337.4 L694 1339.1 M694 1339.1 L695.5 1338.7 L697 1338.5 L698.5 1336.7 L700 1337.7 L701.5 1338.3 L703 1336.7 L704.5 1337.2 L706 1336.1 M706 1336.1 L707.5 1336.1 L709 1336.4 L710.5 1336.8 L712 1336.8 L713.5 1337.9 L715 1336.2 L716.5 1335.2 L718 1337.3 M718 1337.3 L719.5 1334.9 L721 1334.7 L722.5 1336.9 L724 1336.1 L725.5 1334.7 L727 1333.8 L728.5 1334.3 L730 1333.9 M730 1333.9 L731.5 1335.2 L733 1333.6 L734.5 1332.4 L736 1334.5 L737.5 1333.4 L739 1331.7 L740.5 1331.5 L742 1332.2 M742 1332.2 L743.5 1330.9 L745 1332.1 L746.5 1331.8 L748 1329.9 L749 1331.9 L751 1331.3 L752.5 1331.2 L754 1330.1 M754 1330.1 L755.5 1329.7 L757 1327.8 L758.5 1327 L760 1326.6 L761.5 1328.7 L763 1327.4 L764.5 1327.8 L766 1325.7 M766 1325.7 L767.5 1326.4 L769 1324 L770.5 1323.8 L772 1323.7 L773.5 1324 L775 1323.6 L776.5 1323 L778 1322.4 M778 1322.4 L779.5 1322.4 L781 1323.1 L782.5 1321.3 L784 1322.1 L785.5 1319.5 L787 1320.1 L788.5 1320.3 L790 1320.1 M790 1320.1 L791.5 1318.8 L793 1318.9 L794.5 1320.1 L796 1318.9 L797.5 1318.4 L799 1316.7 L800.5 1316.3 L802 1316.4 M802 1316.4 L803.5 1315.9 L805 1317.9 L806.5 1314.9 L808 1315.5 L809.5 1314.3 L811 1315.6 L812 1313.7 L814 1313.1 M814 1313.1 L815.5 1312.6 L817 1312.7 L818.5 1313 L820 1313.2 L821.5 1311.1 L823 1310.7 L824.5 1311.7 L826 1310.9 M826 1310.9 L827.5 1308.6 L829 1310 L830.5 1309.6 L832 1307.2 L833.5 1307.9 L835 1306.1 L836.5 1305.7 L838 1305.9 M838 1305.9 L839.5 1305.4 L841 1304.7 L842.5 1304.3 L844 1302.6 L845.5 1303.2 L847 1300.9 L848.5 1301.7 L850 1299.7 M850 1299.7 L851.5 1298.1 L853 1296.8 L854.5 1296.7 L856 1295.4 L857.5 1295 L859 1293.7 L860.5 1291.4 L862 1292.5 M862 1292.5 L863.5 1289.3 L865 1290.4 L866.5 1289.2 L868 1287.8 L869.5 1284.8 L871 1281.1 L872.5 1279.6 L874 1277.2 M874 1277.2 L875.5 1275.4 L877 1272.3 L878.5 1270.7 L880 1266.9 L881.5 1265 L883 1263.1 L884.5 1260.4 L886 1257.2 M1159 1320.6 L1160.5 1322.2 L1162 1323.6 L1163.5 1326.7 L1165 1326.9 L1166.5 1326.9 L1168 1329.1 L1169.5 1330.2 L1171 1331.1 M1171 1331.1 L1172.5 1331.3 L1174 1332.9 L1175.5 1335.1 L1177 1334.7 L1178.5 1336.1 L1180 1338.2 L1181.5 1336.8 L1183 1338.8 M1183 1338.8 L1184.5 1338.7 L1186 1340.1 L1187.5 1339.4 L1189 1340.5 L1190.5 1340.5 L1192 1342.5 L1193.5 1343.2 L1195 1342.9 M1195 1342.9 L1196.5 1344.4 L1198 1344.2 L1199.5 1345 L1201 1345.7 L1202.5 1344.5 L1204 1347 L1205.5 1345.8 L1207 1346.7" stroke="#808080" stroke-width="10.0" stroke-linecap="round"/>
<path d="M1370 1290 L1372 1287.8 L1374 1285.6 L1376 1285.8 L1378 1283.1 L1380 1282 L1382 1282.4 L1384 1281.4 L1386 1279.7 M1386 1279.7 L1388 1277.8 L1390 1277.8 L1392 1276.6 L1394 1272.6 L1396 1273.5 L1398 1272.4 L1400 1270.3 L1402 1267.5 M1402 1267.5 L1404 1266.4 L1406 1261.6 L1408 1262.1 L1410 1258.5 L1412 1256.2 L1414 1254 L1416 1250.8 L1417.7 1248" stroke="#000" stroke-width="6.5" stroke-linecap="round"/>
<path d="M322 1358.2 L324 1357 L326 1358.3 L328 1355.8 L330 1357.3 L332 1356.7 L334 1357.8 L336 1356.1 L338 1358 M338 1358 L340 1357.1 L342 1358.1 L344 1356.9 L346 1356.8 L348 1357.8 L350 1358.4 L352 1356.6 L354 1358.3 M354 1358.3 L356 1358.2 L358 1356.1 L360 1357.3 L362 1357.6 L364 1358.2 L366 1357.5 L368 1356 L370 1357 M370 1357 L372 1357 L374 1357 L376 1358.3 L378 1356.6 L380 1356.2 L382 1357.1 L384 1357.4 L386 1358.2 M386 1358.2 L388 1357.2 L390 1356.3 L392 1358.2 L394 1357 L396 1357.5 L398 1356.9 L400 1356.2 L402 1357.5 M402 1357.5 L404 1357.8 L406 1356.1 L408 1356.9 L410 1356.6 L412 1356.1 L414 1356.2 L416 1358.3 L418 1358.1 M418 1358.1 L420 1356.7 L422 1357.7 L424 1355.7 L426 1358.2 L428 1357.1 L430 1357.9 L432 1356.4 L434 1356.6 M434 1356.6 L436 1356.6 L438 1358.3 L440 1356.8 L442 1357 L444 1358.3 L446 1358.1 L448 1356.7 L450 1356.5 M450 1356.5 L452 1357.9 L454 1355.9 L456 1356.7 L458 1358.1 L460 1358.2 L462 1356.2 L464 1355.8 L466 1357.8 M466 1357.8 L468 1357.3 L470 1356.3 L472 1357 L474 1355.8 L476 1357.6 L478 1357.1 L480 1357.6 L482 1355.8 M482 1355.8 L484 1357.4 L486 1356.6 L488 1357 L490 1356.5 L492 1357.4 L494 1357.2 L496 1357.3 L498 1355.7 M498 1355.7 L500 1356.2 L502 1355.8 L504 1356.7 L506 1356.9 L508 1355.9 L510 1357.4 L512 1356.9 L514 1356.9 M514 1356.9 L516 1357.2 L518 1358.2 L520 1357.2 L522 1355.7 L524 1355.9 L526 1357.5 L528 1356.4 L530 1357.6 M530 1357.6 L532 1356.9 L534 1356.5 L536 1357.5 L538 1355.9 L540 1356.2 L542 1356.2 L544 1356.6 L546 1358 M546 1358 L548 1357.7 L550 1357.7 L552 1357.2 L554 1355.3 L556 1356.1 L558 1356.8 L560 1357.9 L562 1356.3 M562 1356.3 L564 1356.9 L566 1357.7 L568 1356.2 L570 1357.4 L572 1357 L574 1356.7 L576 1357 L578 1356.6 M578 1356.6 L580 1355.5 L582 1357.8 L584 1358 L586 1357.6 L588 1356.2 L590 1357 L592 1357.4 L594 1355.3 M594 1355.3 L596 1357.4 L598 1355.3 L600 1357.8 L602 1355.8 L604 1357.9 L606 1355.7 L608 1356.6 L610 1357.4 M610 1357.4 L612 1357.9 L614 1357.1 L616 1357.4 L618 1356.1 L620 1357.2 L622 1356.1 L624 1357.7 L626 1357.2 M626 1357.2 L628 1356 L630 1357.2 L632 1355.1 L634 1357.6 L636 1356.9 L638 1355.8 L640 1356.8 L642 1357.1 M642 1357.1 L644 1356.7 L646 1357.4 L648 1356 L650 1355.7 L652 1355.9 L654 1355.6 L656 1356.2 L658 1357 M658 1357 L660 1357.3 L662 1356.6 L664 1357 L666 1357.6 L668 1356.6 L670 1354.9 L672 1356.5 L674 1354.7 M674 1354.7 L676 1356.6 L678 1357.6 L680 1356.1 L682 1357.4 L684 1354.7 L686 1357.4 L688 1355.1 L690 1357.1 M690 1357.1 L692 1355.5 L694 1355.7 L696 1354.9 L698 1354.7 L700 1356.7 L702 1356.7 L704 1354.9 L706 1356.3 M706 1356.3 L708 1355.2 L710 1357.1 L712 1354.8 L714 1356.2 L716 1357 L718 1356 L720 1356.4 L722 1356.7 M722 1356.7 L724 1356.4 L726 1356.8 L728 1355 L730 1357 L732 1355.8 L734 1357 L736 1356.3 L738 1356.4 M738 1356.4 L740 1357 L742 1354.5 L744 1356.8 L746 1355 L748 1356.6 L750 1354.8 L752 1355.5 L754 1354.5 M754 1354.5 L756 1356.5 L758 1355 L760 1355.5 L762 1356.4 L764 1355.1 L766 1356.6 L768 1355.5 L770 1356.8 M770 1356.8 L772 1356.3 L774 1356.9 L776 1356.1 L778 1354.9 L780 1355.5 L782 1356.7 L784 1356.6 L786 1354.6 M786 1354.6 L788 1354.6 L790 1354.6 L792 1355.7 L794 1354.4 L796 1355.9 L798 1354.7 L800 1356.3 L802 1354.5 M802 1354.5 L804 1356.5 L806 1354.7 L808 1353.8 L810 1354.2 L812 1356.1 L814 1354.1 L816 1354.4 L818 1356.6 M818 1356.6 L820 1354.8 L822 1355.5 L824 1355.2 L826 1354.9 L828 1356.2 L830 1353.6 L832 1354.6 L834 1354.8 M834 1354.8 L836 1355.5 L838 1355.6 L840 1353.4 L842 1353.7 L844 1354.1 L846 1354.4 L848 1355.6 L850 1355.6 M850 1355.6 L852 1356.1 L854 1354.5 L856 1354.5 L858 1353.7 L860 1355.9 L862 1355.9 L864 1356.1 L866 1355.4 M866 1355.4 L868 1355.8 L870 1354.8 L872 1355.6 L874 1354.1 L876 1355.4 L878 1355.3 L880 1354.9 L882 1355.6 M882 1355.6 L884 1355 L885 1353.7 L886 1353.1 L888 1353.8 L890 1353.3 L892 1355.4 L894 1354.2 L896 1354.7 M896 1354.7 L898 1355.1 L900 1354.6 L902 1354.8 L904 1353.7 L906 1354.2 L908 1354.7 L910 1353 L912 1353.7 M912 1353.7 L914 1354.4 L916 1352.1 L918 1351.5 L920 1352.6 L922 1353.7 L924 1352.5 L926 1351.4 L928 1353.7 M928 1353.7 L930 1352 L932 1351.8 L934 1350.6 L936 1351.5 L938 1353.1 L940 1351.3 L942 1352.2 L944 1352.6 M944 1352.6 L946 1349.6 L948 1351.6 L950 1349.8 L952 1350.8 L954 1351.7 L956 1350.1 L958 1351.1 L960 1349.6 M960 1349.6 L962 1350.5 L964 1350.8 L966 1350.1 L968 1349.3 L970 1350.4 L972 1348.5 L974 1348.9 L976 1350.2 M976 1350.2 L978 1349.2 L980 1347.8 L982 1349.4 L984 1349.9 L986 1347.5 L988 1349.6 L990 1346.6 L992 1349.3 M992 1349.3 L994 1348.1 L996 1346.8 L998 1346.3 L1000 1347 L1002 1346.7 L1004 1346.8 L1006 1346.6 L1008 1345.1 M1008 1345.1 L1010 1345.4 L1012 1344.9 L1014 1346.8 L1016 1344.5 L1018 1345.9 L1020 1343.9 L1022 1345.5 L1024 1344.6 M1024 1344.6 L1026 1344.6 L1028 1345.2 L1030 1343.6 L1032 1344.6 L1034 1345.1 L1036 1344.3 L1038 1343.7 L1040 1343.8 M1322 1310.5 L1324 1309.8 L1326 1310.2 L1328 1309 L1330 1307.1 L1332 1306.7 L1334 1306.8 L1336 1304.6 L1338 1303.6 M1338 1303.6 L1340 1304.8 L1342 1302.1 L1344 1302.2 L1346 1302.9 L1348 1299.3 L1350 1299.4 L1352 1297.8 L1354 1298.8 M1354 1298.8 L1356 1297 L1358 1294.6 L1360 1295.8 L1362 1295.4 L1364 1294 L1366 1291.1 L1368 1292.3 L1370 1290" stroke="#000" stroke-width="7.0" stroke-linecap="round"/>
<path d="M1040 1343.8 L1042 1344.2 L1044 1341.4 L1046 1344.2 L1048 1342.3 L1050 1343.5 L1052 1340.7 L1054 1341.2 L1056 1341.8 M1056 1341.8 L1058 1341.7 L1060 1342.6 L1062 1340.5 L1064 1340.1 L1066 1341.1 L1068 1339.4 L1070 1341.6 L1072 1339.3 M1072 1339.3 L1073 1338.5 L1074 1340.3 L1076 1338.9 L1078 1340.8 L1080 1338.2 L1082 1339.2 L1084 1339.3 L1086 1338.8 M1086 1338.8 L1088 1337.3 L1090 1338.6 L1092 1337.2 L1094 1336.7 L1096 1339.2 L1098 1337.1 L1100 1336.3 L1102 1336 M1102 1336 L1104 1338.4 L1106 1338.2 L1108 1337.7 L1110 1337.7 L1112 1335.9 L1114 1336.6 L1116 1336.9 L1118 1335.2 M1118 1335.2 L1120 1336.5 L1122 1336.6 L1124 1335.5 L1125.4 1335.7 L1128 1333.3 L1130 1334.1 L1132 1333.5 L1134 1333.2 M1134 1333.2 L1136 1334.6 L1138 1334.2 L1140 1331 L1142 1332.3 L1144 1330.6 L1146 1331.6 L1148 1332.2 L1150 1329.2 M1150 1329.2 L1152 1329.6 L1154 1329 L1156 1329.8 L1158 1329.7 L1160 1327 L1160.9 1327.3 L1162 1327.7 L1164 1329.3 M1164 1329.3 L1166 1328.5 L1168 1327.9 L1170 1328.7 L1172 1326.7 L1174 1327.8 L1176 1325.9 L1178 1325.7 L1180 1327.6 M1180 1327.6 L1182 1327.1 L1184 1326.3 L1186 1324.6 L1188 1324.9 L1190 1326.6 L1192 1325 L1194 1323.5 L1196 1323.9 M1196 1323.9 L1198 1324.8 L1200 1325.5 L1202 1324 L1204 1323.1 L1206 1324.6 L1208 1322.9 L1210 1322.6 L1212 1323.4 M1212 1323.4 L1214 1323 L1216 1323.9 L1218 1322.4 L1220 1322.8 L1222 1322 L1224 1322.5 L1226 1323 L1228 1320.3 M1228 1320.3 L1230 1322.6 L1231.7 1322.5 L1234 1320.6 L1236 1319.4 L1238 1320.7 L1240 1321.3 L1242 1319.7 L1244 1319.6 M1244 1319.6 L1246 1320 L1248 1321.6 L1250 1320.6 L1252 1320.8 L1254 1320.4 L1256 1320.5 L1258 1319.7 L1260 1319.8 M1260 1319.8 L1262 1318.4 L1264 1321.1 L1266 1318.4 L1267.1 1320.4 L1268 1319.7 L1270 1319.8 L1272 1318.8 L1274 1318.6 M1274 1318.6 L1276 1317.7 L1278 1316.5 L1280 1318 L1282 1317.6 L1284 1316.4 L1286 1317.9 L1288 1317.7 L1290 1315.6 M1290 1315.6 L1292 1315.6 L1294 1314.5 L1296 1315.8 L1298 1313.8 L1300 1313.9 L1302 1315.6 L1304 1312.9 L1306 1315 M1306 1315 L1308 1313.7 L1310 1312.4 L1312 1314.2 L1314 1313.2 L1316 1313.7 L1318 1312.2 L1320 1311.7 L1322 1310.5" stroke="#000" stroke-width="7.5" stroke-linecap="round"/>
<path d="M1498 926.2 L1500 928.9" stroke="#000" stroke-width="5.0" stroke-linecap="round"/>
<path d="M1564 849.8 L1566 852 L1568 851.5 L1569 852.4 L1570 853.4 L1572 847.3 L1574 845.4 L1575.5 842.9" stroke="#000" stroke-width="5.0" stroke-linecap="round"/>
<path d="M1628 1014 L1630 1019.1 L1631.6 1019.4 L1634 1025.3 L1636 1024.4" stroke="#000" stroke-width="5.0" stroke-linecap="round"/>
<path d="M1650 1089.4 L1652 1092.6" stroke="#000" stroke-width="5.0" stroke-linecap="round"/>
<path d="M1662 1124.4 L1664 1124.3 L1666 1130.2" stroke="#000" stroke-width="5.0" stroke-linecap="round"/>
<path d="M1680 1176.8 L1682 1180.5 L1684 1182.7 L1686 1182.3 L1688 1187.9" stroke="#000" stroke-width="5.0" stroke-linecap="round"/>
<path d="M1704 1226.8 L1706 1231.2 L1708 1234.3 L1709.1 1235 L1710 1239.8 L1712 1240.9 L1714 1241.4 L1716 1244.7 L1718 1250.3 M1718 1250.3 L1720 1253.1 L1722 1254.9 L1724 1258 L1726 1262 L1728 1265.3 L1730 1269.6 L1731.1 1272 L1732 1271.1 M1732 1271.1 L1734 1276.8 L1736 1276 L1738 1277.8 L1740 1282.2 L1742 1283.3 L1744 1287.1 L1746 1287 L1748 1290.6 M1748 1290.6 L1750 1291.1 L1751.3 1295.3 L1754 1295.7 L1756 1300.6 L1758 1299.7 L1760 1303.2 L1762 1304.6 L1764 1308.7 M1764 1308.7 L1766 1308.3 L1768 1311.2 L1770 1314.3 L1772 1313 L1774 1315.9 L1776 1318.6 L1778 1317.4 L1780 1318.1 M1780 1318.1 L1782 1321.1 L1784 1323.2 L1786 1324.6 L1788 1324.2 L1790 1324.2 L1792 1324.5 L1794 1327.1 L1795 1326.7" stroke="#000" stroke-width="5.5" stroke-linecap="round"/>
<path d="M1795 1326.7 L1796 1328.9 L1798 1330 L1800 1330.6 L1802 1329.4 L1804 1333.2 L1806 1333.1 L1808 1333.2 L1810 1334.5 M1810 1334.5 L1812 1335.7 L1814 1334 L1816 1336.4 L1818 1335.6 L1820 1336.2 L1822 1339.1 L1823.4 1336.2 L1826 1338.3 M1826 1338.3 L1828 1340 L1830 1339.9 L1832 1339.4 L1834 1341.5 L1836 1339.8 L1838 1341.5 L1840 1341.9 L1842 1341 M1842 1341 L1844 1341.6 L1846 1344.8 L1848 1342.3 L1850 1346.3 L1852 1344.2 L1854 1347.2 L1856 1346.7 L1858 1346.3 M1858 1346.3 L1860 1348.3 L1861.4 1345.6 L1864 1347.9 L1866 1348.9 L1868 1349.2 L1870 1347.9 L1872 1347.3 L1874 1351.2 M1874 1351.2 L1876 1351.4 L1878 1349.3 L1880 1351.8 L1882 1349.3 L1884 1350.2 L1886 1353.3 L1888 1350.2 L1889.9 1352.4 M1889.9 1352.4 L1892 1353.2 L1894 1353.8 L1896 1354.5 L1898 1351.3 L1900 1354.1 L1902 1354.1 L1904 1353.7 L1906 1352.9 M1906 1352.9 L1908 1355.5 L1910 1353.7 L1912 1355.2 L1914 1354 L1916 1354.7 L1918 1357 L1920 1354.2 L1922 1356.8 M1922 1356.8 L1924 1354 L1926 1357.7 L1927.9 1356.6 L1930 1355.5 L1932 1357.3 L1934 1357.1 L1936 1358 L1938 1357 M1938 1357 L1940 1357.3 L1942 1355.9 L1944 1357.6 L1946 1357.4 L1948 1356.4 L1950 1355.5 L1952 1358.3 L1954 1356.4 M1954 1356.4 L1956 1357.7 L1958 1354.9 L1960 1355.9 L1962 1355.5 L1964 1357.6 L1966 1356.3 L1968 1357.9 L1970 1356.2 M1970 1356.2 L1972 1356.2 L1974 1356.2 L1976 1355.9 L1978 1357.2 L1980 1357 L1982 1358.5 L1984 1356.5 L1986 1355.7 M1986 1355.7 L1988 1358.4 L1990 1358.7 L1992 1357.3 L1994 1355.6 L1996 1357.2 L1998 1356.1 L2000 1356.7 L2002 1357 M2002 1357 L2004 1355.7 L2006 1357.4 L2008 1357.4 L2010 1356.5 L2012 1356 L2014 1357.8 L2016 1358 L2018 1359.2 M2018 1359.2 L2020 1357.9 L2022 1356.5 L2024 1356.5 L2026 1355.9 L2028 1356.2 L2030 1358.8 L2032 1356 L2034 1357.6 M2034 1357.6 L2036 1356.7 L2038 1358.2 L2040 1358.7 L2042 1358 L2044 1358.5 L2046 1356.3 L2048 1356.5 L2050 1356.4 M2050 1356.4 L2052 1357.1 L2054 1356.3 L2056 1358.8 L2058 1359.2 L2060 1358.9 L2062 1357.2 L2064 1357.8 L2066 1358.6 M2066 1358.6 L2068 1357 L2070 1357.5 L2072 1358.8 L2074 1358.2 L2076 1357.8 L2078 1357.3 L2080 1359.2 L2082 1357.7 M2082 1357.7 L2084 1358 L2086 1358.5 L2088 1357.3 L2090 1359.7 L2092 1357.8 L2094 1359.2 L2096 1358.9 L2098 1357.4 M2098 1357.4 L2100 1356.9 L2102 1358.4 L2104 1359.3" stroke="#000" stroke-width="6.0" stroke-linecap="round"/>
<path d="M1417.7 1248 L1420 1243 L1422 1238.4 L1424 1233.4 L1426 1231.8 L1428 1227.7 L1430 1222.1 L1432 1216.1 L1434 1211.7 L1436 1208.4 L1438 1202.3 L1439.8 1197.4 L1442 1190.4 L1444 1180.5 L1446 1171.8 L1448 1163.4 L1450 1155.1 L1452 1145.4 L1453.1 1137 L1454 1134.3 L1456 1120.9 L1458 1112.7 L1460 1105.6 L1462 1103 L1464 1101.9 L1466 1084.4 L1468 1074.7 L1470 1064.2 L1472 1052 L1474 1032.6 L1476 1014.5 L1478 1001.7 L1479.8 985.5 L1482 953.6 L1483 941.1 L1484 937.3 L1486 926.4 L1488 912.3 L1489.5 907.9 L1492 910.9 L1494 917.3 L1496 919 L1498 926.2 M1500 928.9 L1502 922.6 L1504 912.6 L1506 903.3 L1508 887.9 L1510 864.5 L1511 855.4 L1512 844.6 L1514 825.1 L1515.3 813.4 L1518 801.9 L1520 796.6 L1522 796.3 L1524 804.7 L1526 813.1 L1528 821.3 L1530 833.6 L1532 844.7 L1534 853 L1536 847.9 L1538 831.2 L1540 817.6 L1542 810 L1544 806 L1546 800.2 L1547.5 800 L1550 805.9 L1552 812.6 L1554 818.9 L1556 823.7 L1558 829.4 L1560 837.6 L1562 846 L1564 849.8 M1575.5 842.9 L1578 850.3 L1580 853 L1581.9 861.3 L1584 871.8 L1586 885.6 L1588 895.4 L1590 904.7 L1592 911.8 L1594 917.7 L1596 923.5 L1597 925.3 L1598 922.9 L1600 918.5 L1602 911.2 L1603.4 910.5 L1606 919.4 L1608 930.6 L1609.9 939.8 L1612 946.1 L1614 953.7 L1616 963.2 L1618 974.2 L1620 985.8 L1622 997.6 L1623.7 1004.9 L1626 1010.2 L1628 1014 M1636 1024.4 L1638 1028.3 L1640 1041 L1641.1 1043.8 L1642 1047.9 L1644 1054.8 L1645.1 1062.1 L1646 1068.7 L1647.4 1084 L1650 1089.4 M1652 1092.6 L1654 1097.7 L1655.3 1099.6 L1658 1113.7 L1660 1120.3 L1662 1124.4 M1666 1130.2 L1668 1132.2 L1670 1141.1 L1671.1 1147.8 L1672 1148.7 L1674 1155.8 L1675.9 1164.2 L1678 1170.9 L1679 1176.1 L1680 1176.8 M1688 1187.9 L1690 1192 L1692 1195.7 L1694 1201.4 L1696 1208 L1698 1215.7 L1700 1218.2 L1702 1222.9 L1704 1226.8" stroke="#000" stroke-width="5.0" stroke-dasharray="34 8"/>
<path d="M1252 839.2 L1253.4 834 L1255 825.3 L1256.5 819.3 L1258 812.1 L1259.5 801.8 L1261 782.7 L1262.5 762.1 L1264 743.2 M1264 743.2 L1265.5 722.2 L1267 679.4 L1268.5 632.7 L1269.6 600.1 L1271.5 562.1 L1272.6 540.7 L1273.9 478.5 L1276 444.5 M1276 444.5 L1277.3 427.8 L1279 409.6 L1279.9 402.2 L1282 429.2 L1283.5 451.5 L1284.2 462.1 L1285 474.7 L1286.5 499.5 M1286.5 499.5 L1288 513.7 L1289.5 522.2 L1290.2 528.4 L1291 525.7 L1292.5 522.4 L1294 519.3 L1295.3 518.1 L1297 483.2 M1297 483.2 L1298.5 447.1 L1300 424 L1301.5 399.7 L1303 374.9 L1304.5 355.1 L1306 336.7 L1307.5 319.7 L1308.9 304.6 M1308.9 304.6 L1310.5 319.3 L1312 336.1 L1313.5 368.3 L1314.9 399.7 L1316.5 423.3 L1318 440.2 L1319.5 451.5 L1321 459.3 M1321 459.3 L1322.5 468 L1323.5 470.2 L1325.5 463.6 L1327 458.3 L1328.5 451.8 L1330 444.7 L1331.5 432.1 L1333 416.1 M1333 416.1 L1334.5 402 L1336 389.7 L1337.5 390.9 L1339 394.7 L1340.5 401.9 L1342 422.9 L1343.5 444.8 L1345 456.7 M1345 456.7 L1346.5 466.4 L1348 473.9 L1349.1 478.3 L1351 486.1 L1352.5 489.9 L1354 494.6 L1355.5 486.2 L1357 476.5 M1357 476.5 L1358.5 467.4 L1359.3 459.8 L1360 457 L1361.5 450.6 L1363 446.1 L1364.5 441.5 L1366 449.2 L1367.5 459.5 M1367.5 459.5 L1369 472.1 L1370.5 487.3 L1371.3 495.3 L1372 502 L1373.5 515.8 L1374.7 528.1 L1376.5 553.7 L1378 572.1 M1378 572.1 L1379.5 582 L1381 586.3 L1382.5 589.6 L1384 591.9 L1385.5 595.2 L1386.6 597.4 L1388.5 603.8 L1390 607.8 M1390 607.8 L1391.5 610.1 L1393 614.7 L1394.5 618.7 L1396 630.5 L1397.5 641 L1399 654.3 L1399.8 658.8 L1400.5 666.7 M1400.5 666.7 L1402 681.4 L1403.5 697.5 L1405 717.7 L1406.5 740.4 L1408 755.1 L1409.1 764.4 L1411 778.2 L1412.5 789.1 M1412.5 789.1 L1414 796.5 L1415.5 805 L1417 811 L1418.4 819.3 L1420 824.9 L1421.5 832.3 L1423 835.6 L1424.5 842.5 M1424.5 842.5 L1426 852.6 L1427.5 862.9 L1429 874.7 L1430.4 884.8 L1432 893.9 L1433.5 903.4 L1435 913.8 L1436.5 922.7 M1436.5 922.7 L1438 933.4 L1439.5 947.9 L1441 957.1 L1442.5 964.8 L1444 970 L1445.5 977.5 L1446.5 984.5 L1448.5 989.4" stroke="#000" stroke-width="6.0" stroke-linecap="round"/>
<path d="M1240 962.8 L1241.5 944 L1242.5 930.4 L1244.5 896.4 L1245.7 875.7 L1247.5 864.1 L1249 853.8 L1250 846.8 L1252 839.2 M1448.5 989.4 L1450 995.7 L1451.5 1000.2 L1453 1006 L1454.5 1010.9 L1456 1020.8 L1457.5 1028.2 L1459 1034.1 L1459.7 1039.1 M1459.7 1039.1 L1460.5 1042.3 L1462 1054.5 L1463.5 1063.3 L1465 1074.2 L1466.4 1083.5 L1468 1090.7 L1469.5 1101.9 L1471 1108.2 M1471 1108.2 L1472.5 1116.5 L1474 1122.1 L1475.5 1126.1 L1477 1131.6 L1478.5 1134.7 L1480 1140.3 L1481.5 1145.1 L1483 1150.5 M1483 1150.5 L1484.5 1153.8 L1486 1158.5 L1487.2 1163.6 L1489 1177.3 L1490.5 1189.4 L1492 1194.2 L1493.5 1197.6 L1495 1200.9" stroke="#000" stroke-width="6.5" stroke-linecap="round"/>
<path d="M1231 1064 L1231.8 1058.7 L1232.5 1053.3 L1234 1037 L1235.5 1022.8 L1237 1003.9 L1238.5 984.4 L1239.3 972.7 L1240 962.8 M1495 1200.9 L1496.5 1205.7 L1498 1209.1 L1499.5 1211.4 L1501 1215.9 L1502.5 1219.5 L1504 1224.3 L1505.5 1227.8 L1507 1231 M1793.5 1355.3 L1795 1354.2 L1796.5 1354.7 L1798 1355.8 L1799.5 1354.3 L1801 1355.5 L1802.5 1355.3 L1804 1355.3 L1805.5 1354.3 M1805.5 1354.3 L1807 1356.1 L1808.5 1355.3 L1810 1355.7 L1811.5 1355.6 L1813 1354.7 L1814.5 1355.9 L1816 1354.9 L1817.5 1356.4 M1817.5 1356.4 L1819 1355.1 L1820.5 1354.4 L1822 1355.1 L1823.5 1354.9 L1825 1356.5 L1826.5 1354.7 L1828 1356.4 L1829.5 1353.9 M1829.5 1353.9 L1831 1354.2 L1832.5 1354.7 L1834 1356 L1835.5 1355.6 L1837 1355.1 L1838.5 1355.1 L1840 1356.3 L1841.5 1354.5 M1841.5 1354.5 L1843 1356.1 L1844.5 1355 L1846 1355.9 L1847.5 1356.2 L1849 1355.1 L1850.5 1354.5 L1852 1354.6 L1853.5 1354.6 M1853.5 1354.6 L1855 1354.2 L1856.5 1355.2 L1858 1355.8 L1859.5 1355.1 L1861 1356.7 L1862.5 1356.6 L1864 1356.2 L1865.5 1356.2 M1865.5 1356.2 L1867 1354.9 L1868.5 1356.1 L1870 1354.2 L1871.5 1354.1 L1873 1354.2 L1874.5 1354.9 L1876 1356.1 L1877.5 1354.1 M1877.5 1354.1 L1879 1355.1 L1880.5 1355.7 L1882 1356.4 L1883.5 1355.6 L1885 1354.7 L1886.5 1354.3 L1888 1355.5 L1889.5 1356.3 M1889.5 1356.3 L1891 1356.4 L1892.5 1355.8 L1894 1354.6 L1895.5 1354.3 L1897 1354.2 L1898.5 1354.9 L1900 1355.6 L1901.5 1354.5 M1901.5 1354.5 L1903 1355.8 L1904.5 1355 L1906 1356.3 L1907.5 1355.6 L1909 1356.2 L1910.5 1354.8 L1912 1355.7 L1913.5 1356.6 M1913.5 1356.6 L1915 1354.1 L1916.5 1356.7 L1918 1355.8 L1919.5 1356.9 L1921 1354.9 L1922.5 1355.5 L1924 1356 L1925.5 1355.8 M1925.5 1355.8 L1927 1355.8 L1928.5 1356.5 L1930 1354.6 L1931.5 1356.1 L1933 1355.3 L1934.5 1356.7 L1936 1356.8 L1937.5 1355.3 M1937.5 1355.3 L1939 1355.1 L1940.5 1356.6 L1942 1356.7 L1943.5 1356.3 L1945 1356.6 L1946.5 1356.8 L1948 1355.5 L1949.5 1355.1 M1949.5 1355.1 L1951 1354.3 L1952.5 1355.3 L1954 1354.7 L1955.5 1356.1 L1957 1355.8 L1958.5 1356.7 L1960 1356 L1961.5 1354.8 M1961.5 1354.8 L1963 1355.1 L1964.5 1355.5 L1966 1355.6 L1967.5 1356.7 L1969 1355.9 L1970.5 1355 L1972 1354.9 L1973.5 1355.7 M1973.5 1355.7 L1975 1354.3 L1976.5 1355.4 L1978 1356.6 L1979.5 1356.7 L1981 1355.7 L1982.5 1355.6 L1984 1355 L1985.5 1355.7 M1985.5 1355.7 L1987 1355.4 L1988.5 1355.9 L1990 1356.8 L1991.5 1356.2 L1993 1354.5 L1994.5 1354.6 L1996 1356 L1997.5 1356.8 M1997.5 1356.8 L1999 1355.8 L2000.5 1356.4 L2002 1354.9 L2003.5 1354.8 L2005 1356.9 L2006.5 1356.6 L2008 1355.4 L2009.5 1356.4 M2009.5 1356.4 L2011 1355.9 L2012.5 1356.3 L2014 1355.7 L2015.5 1356 L2017 1356.7 L2018.5 1355.3 L2020 1356.2 L2021.5 1356.8 M2021.5 1356.8 L2023 1354.2 L2024.5 1354.8 L2026 1355.1 L2027.5 1355.7 L2029 1355.4 L2030.5 1356.7 L2032 1354.6 L2033.5 1355 M2033.5 1355 L2035 1354.3 L2036.5 1354.6 L2038 1355.8 L2039.5 1354.2 L2041 1356.7 L2042.5 1356.2 L2044 1354.3 L2045.5 1356.3 M2045.5 1356.3 L2047 1354.4 L2048.5 1355.5 L2050 1354.7 L2051.5 1354.6 L2053 1355.6 L2054.5 1356.6 L2056 1354.3 L2057.5 1354.7 M2057.5 1354.7 L2059 1355.5 L2060.5 1356.8 L2062 1355.1 L2063.5 1356.5 L2065 1355.6 L2066.5 1355.4 L2068 1356.2 L2069.5 1354.6 M2069.5 1354.6 L2071 1355.6 L2072.5 1354.2 L2074 1355.6 L2075.5 1356.9 L2077 1354.3 L2078.5 1354.4 L2080 1355.7 L2081.5 1356.7 M2081.5 1356.7 L2083 1355.7 L2084.5 1356.8 L2086 1355 L2087.5 1356.9 L2089 1354.7 L2090.5 1356.3 L2092 1355 L2093.5 1356.4 M2093.5 1356.4 L2095 1354.2 L2096.5 1355 L2098 1356.7 L2099.5 1356.3 L2101 1355.5 L2102.5 1355.2 L2104 1356.7" stroke="#000" stroke-width="7.0" stroke-linecap="round"/>
<path d="M1220.5 1113.9 L1222 1108.2 L1223.5 1102.3 L1224.2 1098.3 L1225 1095.4 L1226.5 1087.9 L1228 1080.6 L1229.5 1071.5 L1231 1064 M1507 1231 L1508.5 1235.3 L1510 1238.7 L1511.5 1240.9 L1513 1245.2 L1514.5 1246.1 L1516 1249 L1517.5 1253.8 L1518.4 1255.2 M1769.5 1355.3 L1771 1354.9 L1772.5 1356.2 L1774 1354.1 L1775.5 1354 L1777 1354.6 L1778.5 1354.3 L1780 1356.4 L1781.5 1355.2 M1781.5 1355.2 L1783 1356.2 L1784.5 1355.2 L1786 1354.3 L1787.5 1356.2 L1789 1356.2 L1790.5 1354.1 L1792 1355.9 L1793.5 1355.3" stroke="#000" stroke-width="7.5" stroke-linecap="round"/>
<path d="M1745.5 1356.3 L1747 1354.9 L1748.5 1356.3 L1750 1355.3 L1751.5 1354.7 L1753 1354.9 L1754.5 1355.4 L1756 1354.5 L1757.5 1356.2 M1757.5 1356.2 L1759 1354.7 L1760.5 1355.4 L1762 1356 L1763.5 1356 L1765 1355.5 L1766.5 1355.6 L1768 1355.8 L1769.5 1355.3" stroke="#000" stroke-width="8.0" stroke-linecap="round"/>
<path d="M1208.5 1157 L1210 1153.1 L1211.5 1149 L1213 1145.2 L1214.5 1138.8 L1216 1132.2 L1217.5 1125.8 L1219 1119.3 L1220.5 1113.9 M1518.4 1255.2 L1520.5 1259.9 L1522 1263.5 L1523.5 1265.3 L1525 1269.2 L1526.5 1271.7 L1528 1274.3 L1529.4 1277 L1531 1281.1 M1721.5 1354.6 L1723 1354 L1724.5 1355.5 L1726 1353.7 L1727.5 1354.5 L1729 1353.7 L1730.5 1354.5 L1732 1354.3 L1733.5 1355.3 M1733.5 1355.3 L1735 1355.5 L1736.5 1355.6 L1738 1354.7 L1739.5 1355.7 L1741 1355.4 L1742.5 1355.1 L1744 1355.8 L1745.5 1356.3" stroke="#000" stroke-width="8.5" stroke-linecap="round"/>
<path d="M322 1346.3 L323.5 1346.8 L325 1348.3 L326.5 1347.7 L328 1346.4 L329.5 1347.3 L331 1347.4 L332.5 1346.5 L334 1348.2 M334 1348.2 L335.5 1346.4 L337 1347.2 L338.5 1347.5 L340 1347.3 L341.5 1347.7 L343 1348.2 L344.5 1348.8 L346 1346.9 M1685.5 1355.7 L1687 1355.4 L1688.5 1353.8 L1690 1353.8 L1691.5 1354.2 L1693 1353.9 L1694.5 1355 L1696 1355.7 L1697.5 1355.2 M1697.5 1355.2 L1699 1356.1 L1700.5 1355 L1702 1354.9 L1703.5 1354 L1705 1356.3 L1706.5 1355.5 L1708 1356.3 L1709.5 1356.2 M1709.5 1356.2 L1711 1353.8 L1712.5 1355.3 L1714 1355 L1715.5 1355.7 L1717 1353.7 L1718.5 1355.4 L1720 1355.3 L1721.5 1354.6" stroke="#000" stroke-width="9.0" stroke-linecap="round"/>
<path d="M346 1346.9 L347.5 1347.9 L349 1348 L350.5 1346.9 L352 1346.1 L353.5 1348.8 L355 1346.9 L356.5 1347 L358 1348.6 M358 1348.6 L359.5 1347.7 L361 1347.4 L362.5 1348.3 L364 1346.2 L365.5 1348.1 L367 1347.1 L368.5 1346.4 L370 1347.9 M370 1347.9 L371.5 1348.7 L373 1346.7 L374.5 1347.9 L376 1346.9 L377.5 1348.2 L379 1348.1 L380.5 1346.7 L382 1348.4 M382 1348.4 L383.5 1347.9 L385 1348 L386.5 1348.4 L388 1347.3 L389.5 1348.2 L391 1348.6 L392.5 1346.4 L394 1348.5 M394 1348.5 L395.5 1347.2 L397 1347.4 L398.5 1346.5 L400 1348.1 L401.5 1346.9 L403 1348.5 L404.5 1346.9 L406 1347.7 M406 1347.7 L407.5 1347.2 L409 1347.8 L410.5 1346.7 L412 1346.6 L413.5 1348.2 L415 1348.2 L416.5 1347.7 L418 1348.7 M418 1348.7 L419.5 1346.7 L421 1348.5 L422.5 1346.6 L424 1348.8 L425.5 1347.8 L427 1347.8 L428.5 1348.8 L430 1348.3 M430 1348.3 L431.5 1348.3 L433 1346.3 L434.5 1347.1 L436 1346.3 L437.5 1346.6 L439 1346.7 L440.5 1348.5 L442 1346.5 M442 1346.5 L443.5 1346.9 L445 1347.5 L446.5 1348.5 L448 1348.8 L449.5 1348.1 L451 1346.7 L452.5 1347.6 L454 1348.1 M454 1348.1 L455.5 1346.2 L457 1348 L458.5 1347.1 L460 1347.8 L461.5 1348 L463 1348 L464.5 1347.6 L466 1347.7 M466 1347.7 L467.5 1346.7 L469 1347.5 L470.5 1346.5 L472 1347.4 L473.5 1347.6 L475 1348.3 L476.5 1347.2 L478 1346.2 M478 1346.2 L479.5 1347.6 L481 1346.7 L482.5 1348.2 L484 1347.2 L485.5 1347.2 L487 1348.6 L488.5 1347.2 L490 1347.1 M490 1347.1 L491.5 1347.1 L493 1347.4 L494.5 1346.4 L496 1347.6 L497.5 1348.7 L499 1347.7 L500 1348.2 L502 1348.7 M502 1348.7 L503.5 1348.4 L505 1348.2 L506.5 1348.3 L508 1348.3 L509.5 1346.7 L511 1347.4 L512.5 1347 L514 1346.7 M514 1346.7 L515.5 1347.6 L517 1346.9 L518.5 1347.7 L520 1347.6 L521.5 1346.2 L523 1347.2 L524.5 1347 L526 1347.9 M526 1347.9 L527.5 1346.1 L529 1346.4 L530.5 1347.3 L532 1347 L533.5 1347.7 L535 1346.8 L536.5 1346.4 L538 1348.4 M538 1348.4 L539.5 1346.5 L541 1346.2 L542.5 1346.5 L544 1346.7 L545.5 1346.4 L547 1347.2 L548.5 1348.3 L550 1346 M550 1346 L551.5 1346.8 L553 1347.5 L554.5 1348.1 L556 1348.4 L557.5 1346 L559 1347.1 L560 1348.1 L562 1345.7 M562 1345.7 L563.5 1347.2 L565 1346 L566.5 1347.6 L568 1348.1 L569.5 1346.9 L571 1345.4 L572.5 1345.6 L574 1346.5 M574 1346.5 L575.5 1347.7 L577 1346 L578.5 1347.1 L580 1346.4 L581.5 1346 L583 1347.2 L584.5 1346 L586 1346.2 M1184.5 1210.5 L1186 1208.9 L1187.4 1205.2 L1189 1203.7 L1190.5 1198.9 L1192 1198 L1193.5 1194 L1195 1190.3 L1196.5 1187.3 M1196.5 1187.3 L1198 1182.9 L1199.5 1180.4 L1201 1175.6 L1202.5 1172.5 L1204 1168.9 L1205.5 1164.8 L1207 1161.8 L1208.5 1157 M1531 1281.1 L1532.5 1281.8 L1534 1284.6 L1535.5 1287.3 L1537 1290.2 L1538.5 1291.1 L1540 1295.2 L1541.5 1295.5 L1543 1298.4 M1543 1298.4 L1544.5 1300.5 L1546 1302.8 L1547.5 1304.7 L1549 1306.7 L1550.5 1306.9 L1552 1309.6 L1553.5 1312.6 L1555 1313.5 M1555 1313.5 L1556.5 1315.9 L1558 1316.3 L1559.5 1317.6 L1561 1319.2 L1562.5 1321.2 L1564 1319.7 L1565.5 1321.2 L1567 1322.3 M1567 1322.3 L1568.5 1323.8 L1570 1324.4 L1571.5 1328.3 L1573 1327.1 L1574.5 1329 L1576 1331.1 L1577.5 1330.9 L1579 1331.2 M1579 1331.2 L1580.5 1332.2 L1582 1333.5 L1583.5 1334.1 L1585 1335.5 L1586.5 1336.2 L1588 1336.1 L1589.5 1339.2 L1591 1340.3 M1591 1340.3 L1591.7 1339.6 L1592.5 1338.5 L1594 1341.2 L1595.5 1340.1 L1597 1340.6 L1598.5 1340.7 L1600 1343 L1601.5 1342.7 M1601.5 1342.7 L1603 1342 L1604.5 1342.6 L1606 1343.2 L1607.5 1343.4 L1609 1344.6 L1610.5 1345.8 L1612 1343.6 L1613.5 1346.3 M1613.5 1346.3 L1615 1346.6 L1616.5 1345.3 L1618 1347.7 L1619.2 1347.8 L1621 1347.6 L1622.5 1346 L1624 1347.2 L1625.5 1348.3 M1625.5 1348.3 L1627 1347.9 L1628.5 1346.7 L1630 1348.9 L1631.5 1348.1 L1633 1347.7 L1634.5 1348.2 L1636 1347.8 L1637.5 1348.7 M1637.5 1348.7 L1639 1347.9 L1640.5 1350.8 L1642 1348.6 L1643.5 1349.3 L1645 1349.4 L1646.5 1350 L1648 1349.9 L1649.5 1351.6 M1649.5 1351.6 L1651 1349.8 L1652.5 1352.3 L1654 1350.8 L1655.5 1352.6 L1657 1351 L1658.5 1350.5 L1660 1352.8 L1661.5 1351.1 M1661.5 1351.1 L1663 1353 L1664.5 1353.6 L1666 1351.9 L1667.5 1352.4 L1669 1353.3 L1670.5 1354.4 L1672 1354.6 L1673.5 1353.8 M1673.5 1353.8 L1675 1354.2 L1676.5 1355 L1678 1353.4 L1679.5 1355.8 L1681 1355.8 L1682.5 1354.2 L1683.4 1355.4 L1685.5 1355.7" stroke="#000" stroke-width="9.5" stroke-linecap="round"/>
<path d="M586 1346.2 L587.5 1347.3 L589 1346.5 L590.5 1347.2 L592 1346.5 L593.5 1345.4 L595 1346.2 L596.5 1347.4 L598 1346.5 M598 1346.5 L599.5 1347.6 L601 1344.9 L602.5 1345.8 L604 1346.9 L605.5 1346.7 L607 1346.3 L608.5 1346.6 L610 1347.1 M610 1347.1 L611.5 1346.6 L613 1346.2 L614.5 1346.2 L616 1346.4 L617.5 1345.4 L619 1346.4 L620.5 1346.2 L622 1346.6 M622 1346.6 L623.5 1345.8 L625 1344.5 L626.5 1345.9 L628 1346.7 L629.5 1346.1 L631 1346.1 L632.5 1345.3 L634 1345.2 M634 1345.2 L635.5 1346.2 L637 1344.4 L638.5 1346.5 L640 1346.5 L641.5 1346.7 L643 1344.3 L644.5 1344.2 L646 1346.3 M1148.5 1249.6 L1150 1249.2 L1151.5 1247.8 L1153 1247.6 L1154.5 1245.2 L1156 1245.1 L1157.5 1243.9 L1159 1242.2 L1160.5 1240.8 M1160.5 1240.8 L1162 1239.1 L1163.5 1238 L1165 1235 L1166.5 1234 L1168 1232.8 L1169.5 1230 L1171 1228 L1172.5 1225.9 M1172.5 1225.9 L1174 1226.1 L1175 1225.1 L1177 1222.1 L1178.5 1219.7 L1180 1217.3 L1181.5 1213.7 L1183 1213.8 L1184.5 1210.5" stroke="#000" stroke-width="10.0" stroke-linecap="round"/>
<path d="M646 1346.3 L647.5 1344.9 L649 1344.5 L650.5 1344.8 L652 1345.5 L653.5 1344 L655 1344.9 L656.5 1345.3 L658 1345.4 M658 1345.4 L659.5 1343.4 L661 1345.6 L662.5 1344.5 L664 1344.4 L665.5 1344.7 L667 1343.9 L668.5 1345.5 L670 1343.6 M670 1343.6 L671.5 1344.4 L673 1343.3 L674.5 1344.5 L676 1345.3 L677.5 1345.1 L679 1343 L680.5 1344.3 L682 1345 M682 1345 L683.5 1343 L685 1343.5 L686.5 1344.3 L688 1344.3 L689.5 1343.5 L691 1343.9 L692.5 1344 L694 1343 M694 1343 L695.5 1343.8 L697 1343.5 L698.5 1343.8 L700 1343.2 L701.5 1342.7 L703 1342.9 L704.5 1344.2 L706 1342.1 M706 1342.1 L707.5 1341.9 L709 1341.5 L710.5 1343.8 L712 1344.1 L713.5 1341.9 L715 1341.9 L716.5 1341.7 L717.5 1342.8 M717.5 1342.8 L719.5 1342.4 L721 1343.2 L722.5 1341.4 L724 1343.2 L725.5 1342 L727 1342.9 L728.5 1342.8 L730 1343 M730 1343 L731.5 1341.8 L733 1342 L734.5 1341.8 L736 1340.7 L737.5 1341.5 L739 1342.6 L740.5 1342.4 L742 1339.9 M742 1339.9 L743.5 1341.6 L745 1340.6 L746.5 1340 L748 1339.9 L749.5 1341.6 L751 1342 L752.5 1340.7 L754 1340.3 M754 1340.3 L755.5 1340.5 L757 1341.3 L758.5 1341 L760 1339 L761.5 1339.4 L763 1341.1 L764.5 1340 L766 1340.4 M766 1340.4 L767.5 1340.6 L769 1340.1 L770.5 1340.3 L772 1339.7 L773.5 1338.7 L775 1338.5 L776.5 1340.7 L778 1337.8 M778 1337.8 L779.5 1339.6 L781 1340.1 L782.5 1338.2 L784 1337.6 L785.5 1338.5 L787 1338.2 L788.5 1338.4 L790 1338.3 M790 1338.3 L791.5 1339.6 L793 1337.2 L794.5 1339.4 L796 1336.8 L797.5 1339.2 L799 1337.4 L800.5 1338.4 L802 1336.3 M802 1336.3 L803.5 1337.4 L805 1338 L806.5 1337.7 L808 1338.1 L809.5 1336.2 L811 1336.8 L812 1337.3 L814 1335.3 M814 1335.3 L815.5 1337.3 L817 1335.8 L818.5 1335.1 L820 1334.7 L821.5 1335.6 L823 1333.6 L824.5 1333.9 L826 1333.7 M826 1333.7 L827.5 1333.3 L829 1334.3 L830.5 1333.6 L832 1334.1 L833.5 1333.2 L835 1331.8 L836.5 1331.5 L838 1330.6 M838 1330.6 L839.5 1330.6 L841 1331.3 L842.5 1331.4 L844 1329.8 L845.5 1329.6 L847 1330.6 L848.5 1330.7 L850 1327.9 M1112.5 1270.8 L1114 1271.3 L1115.5 1269.5 L1117 1268.2 L1118.5 1270.1 L1120 1267.1 L1121.5 1266.2 L1123 1266.4 L1124.5 1264.3 M1124.5 1264.3 L1126 1265.7 L1127.5 1262.8 L1129 1261.7 L1130.5 1263.2 L1132 1261 L1133.5 1261.1 L1135 1260 L1136.5 1258.5 M1136.5 1258.5 L1138 1255.5 L1139.5 1256.2 L1141 1253.5 L1142.5 1252.3 L1144 1253.6 L1145.5 1251.1 L1147 1251.2 L1148.5 1249.6" stroke="#000" stroke-width="10.5" stroke-linecap="round"/>
<path d="M850 1327.9 L851.5 1327.6 L853 1329.2 L854.5 1328.1 L856 1327.6 L857.5 1327.9 L859 1328 L860.5 1325.8 L862 1328.1 M862 1328.1 L863.5 1327.8 L865 1326.1 L866.5 1326 L868 1325.2 L869.5 1325.9 L871 1324.6 L872.5 1325.3 L874 1326.1 M874 1326.1 L875.5 1324.8 L877 1325.4 L878.5 1323.4 L880 1325.2 L881.5 1322.8 L883 1322.8 L884.5 1324 L886 1322.6 M886 1322.6 L887.5 1321.9 L889 1321.5 L890.5 1323.3 L892 1320.7 L893.5 1320.4 L895 1322.4 L896.5 1321.6 L898 1320 M898 1320 L899.5 1319 L901 1320.5 L902.5 1319.8 L903.8 1319.1 L905.5 1318 L907 1317.4 L908.5 1318.1 L910 1316.2 M910 1316.2 L911.5 1314.4 L913 1313.8 L914.5 1314.6 L916 1314.4 L917.5 1313.5 L919 1313.2 L920.5 1311.3 L922 1310.9 M922 1310.9 L923.5 1310 L925 1309.7 L926.5 1308.8 L928 1309.8 L929.5 1307.3 L931 1306.9 L932.5 1307.9 L934 1306.6 M934 1306.6 L935.5 1306.1 L937 1307.4 L938.5 1306.8 L940 1304.5 L941.5 1304 L943 1304.5 L944.5 1304.4 L946 1303.3 M946 1303.3 L947.5 1303.6 L949 1303.5 L950.5 1303.5 L952 1301.5 L953.5 1302.2 L955 1300.2 L956.5 1299.9 L958 1299.5 M958 1299.5 L959.5 1299.3 L961 1300.8 L962.5 1299.3 L964 1299.3 L965.5 1298.8 L967 1297.8 L968.5 1297 L970 1297.1 M970 1297.1 L971.5 1298.7 L973 1296.9 L974.5 1296.8 L976 1296.1 L977.5 1297.2 L979 1297 L980.5 1296.2 L982 1296.6 M982 1296.6 L983.5 1296.3 L985 1296.9 L986.5 1297 L988 1297.1 L989.5 1298 L991 1298.3 L992.5 1295.8 L994 1296.8 M994 1296.8 L995.5 1296 L997 1297 L998.5 1298.3 L1000 1298 L1001.5 1297.8 L1003 1296.5 L1004.5 1298.6 L1006 1298.1 M1006 1298.1 L1007.5 1297.3 L1009 1298.7 L1010.5 1296.7 L1012 1297.2 L1013.5 1299 L1015 1296.9 L1016.5 1296.9 L1018 1297.7 M1018 1297.7 L1019.5 1298.1 L1021 1297.4 L1022.5 1295.6 L1024 1296 L1025.5 1296.9 L1027 1295.5 L1028.5 1294.8 L1030 1294 M1030 1294 L1031.5 1294.4 L1033 1296 L1034.5 1293.2 L1036 1294.4 L1037.5 1295.2 L1039 1294.7 L1040.5 1293.6 L1042 1294.7 M1042 1294.7 L1043.5 1293.4 L1045 1294.6 L1046.5 1294.1 L1048 1295.9 L1049.5 1296.1 L1051 1295.9 L1052.5 1295 L1054 1296.3 M1054 1296.3 L1055.5 1296.9 L1057 1295.4 L1058.5 1295.9 L1060 1295 L1060.7 1294.9 L1061.5 1296.4 L1063 1294 L1064.5 1295 M1064.5 1295 L1066 1293.1 L1067.5 1294.1 L1069 1293.7 L1070.5 1293.6 L1072 1291.5 L1073.5 1290.8 L1075 1290.2 L1076.5 1290.4 M1076.5 1290.4 L1078 1290 L1079.5 1287.5 L1081 1287.4 L1082 1286.3 L1084 1285.7 L1085.5 1286.4 L1087 1286.1 L1088.5 1285.5 M1088.5 1285.5 L1090 1282.1 L1091.5 1282.3 L1093 1282.8 L1094.5 1281 L1096 1279.7 L1097.5 1280.2 L1099 1279.6 L1100.5 1276.8 M1100.5 1276.8 L1102 1277 L1103.5 1275.2 L1105 1274.5 L1106.5 1274.7 L1108 1273.2 L1109.5 1274 L1111 1272 L1112.5 1270.8" stroke="#000" stroke-width="11.0" stroke-linecap="round"/>
</g>
<g stroke="#000" fill="none" stroke-linecap="round">
<line x1="291" y1="1371.6" x2="320" y2="1371.6" stroke-width="8.4"/>
<line x1="305" y1="1289.5" x2="320" y2="1289.5" stroke-width="8.4"/>
<line x1="291" y1="1207.5" x2="320" y2="1207.5" stroke-width="8.4"/>
<line x1="305" y1="1125.4" x2="320" y2="1125.4" stroke-width="8.4"/>
<line x1="291" y1="1043.4" x2="320" y2="1043.4" stroke-width="8.4"/>
<line x1="305" y1="961.3" x2="320" y2="961.3" stroke-width="8.4"/>
<line x1="291" y1="879.3" x2="320" y2="879.3" stroke-width="8.4"/>
<line x1="305" y1="797.2" x2="320" y2="797.2" stroke-width="8.4"/>
<line x1="291" y1="715.2" x2="320" y2="715.2" stroke-width="8.4"/>
<line x1="305" y1="633.1" x2="320" y2="633.1" stroke-width="8.4"/>
<line x1="291" y1="551.1" x2="320" y2="551.1" stroke-width="8.4"/>
<line x1="305" y1="469" x2="320" y2="469" stroke-width="8.4"/>
<line x1="291" y1="387" x2="320" y2="387" stroke-width="8.4"/>
<line x1="305" y1="305" x2="320" y2="305" stroke-width="8.4"/>
<line x1="291" y1="222.9" x2="320" y2="222.9" stroke-width="8.4"/>
<line x1="305" y1="140.8" x2="320" y2="140.8" stroke-width="8.4"/>
<line x1="291" y1="58.8" x2="320" y2="58.8" stroke-width="8.4"/>
<line x1="2106" y1="1371.6" x2="2080" y2="1371.6" stroke-width="7"/>
<line x1="2106" y1="1289.5" x2="2093" y2="1289.5" stroke-width="7"/>
<line x1="2106" y1="1207.5" x2="2080" y2="1207.5" stroke-width="7"/>
<line x1="2106" y1="1125.4" x2="2093" y2="1125.4" stroke-width="7"/>
<line x1="2106" y1="1043.4" x2="2080" y2="1043.4" stroke-width="7"/>
<line x1="2106" y1="961.3" x2="2093" y2="961.3" stroke-width="7"/>
<line x1="2106" y1="879.3" x2="2080" y2="879.3" stroke-width="7"/>
<line x1="2106" y1="797.2" x2="2093" y2="797.2" stroke-width="7"/>
<line x1="2106" y1="715.2" x2="2080" y2="715.2" stroke-width="7"/>
<line x1="2106" y1="633.1" x2="2093" y2="633.1" stroke-width="7"/>
<line x1="2106" y1="551.1" x2="2080" y2="551.1" stroke-width="7"/>
<line x1="2106" y1="469" x2="2093" y2="469" stroke-width="7"/>
<line x1="2106" y1="387" x2="2080" y2="387" stroke-width="7"/>
<line x1="2106" y1="305" x2="2093" y2="305" stroke-width="7"/>
<line x1="2106" y1="222.9" x2="2080" y2="222.9" stroke-width="7"/>
<line x1="2106" y1="140.8" x2="2093" y2="140.8" stroke-width="7"/>
<line x1="2106" y1="58.8" x2="2080" y2="58.8" stroke-width="7"/>
<line x1="320.2" y1="1372" x2="320.2" y2="1398.6" stroke-width="8.4"/>
<line x1="498.8" y1="1372" x2="498.8" y2="1386" stroke-width="8.4"/>
<line x1="677.3" y1="1372" x2="677.3" y2="1398.6" stroke-width="8.4"/>
<line x1="855.9" y1="1372" x2="855.9" y2="1386" stroke-width="8.4"/>
<line x1="1034.5" y1="1372" x2="1034.5" y2="1398.6" stroke-width="8.4"/>
<line x1="1213" y1="1372" x2="1213" y2="1386" stroke-width="8.4"/>
<line x1="1391.6" y1="1372" x2="1391.6" y2="1398.6" stroke-width="8.4"/>
<line x1="1570.2" y1="1372" x2="1570.2" y2="1386" stroke-width="8.4"/>
<line x1="1748.8" y1="1372" x2="1748.8" y2="1398.6" stroke-width="8.4"/>
<line x1="1927.3" y1="1372" x2="1927.3" y2="1386" stroke-width="8.4"/>
<line x1="2105.9" y1="1372" x2="2105.9" y2="1398.6" stroke-width="8.4"/>
<line x1="320.2" y1="58.6" x2="320.2" y2="85" stroke-width="7"/>
<line x1="498.8" y1="58.6" x2="498.8" y2="72" stroke-width="7"/>
<line x1="677.3" y1="58.6" x2="677.3" y2="85" stroke-width="7"/>
<line x1="855.9" y1="58.6" x2="855.9" y2="72" stroke-width="7"/>
<line x1="1034.5" y1="58.6" x2="1034.5" y2="85" stroke-width="7"/>
<line x1="1213" y1="58.6" x2="1213" y2="72" stroke-width="7"/>
<line x1="1391.6" y1="58.6" x2="1391.6" y2="85" stroke-width="7"/>
<line x1="1570.2" y1="58.6" x2="1570.2" y2="72" stroke-width="7"/>
<line x1="1748.8" y1="58.6" x2="1748.8" y2="85" stroke-width="7"/>
<line x1="1927.3" y1="58.6" x2="1927.3" y2="72" stroke-width="7"/>
<line x1="2105.9" y1="58.6" x2="2105.9" y2="85" stroke-width="7"/>
</g>
<g stroke="#000" fill="none" stroke-linecap="square">
<line x1="320.5" y1="58.6" x2="320.5" y2="1372" stroke-width="8.4"/>
<line x1="2106" y1="58.6" x2="2106" y2="1372" stroke-width="7"/>
<line x1="320.5" y1="58.6" x2="2106" y2="58.6" stroke-width="7"/>
<line x1="320.5" y1="1372.8" x2="2106" y2="1372.8" stroke-width="7.4"/>
</g>
<g font-family='"Liberation Sans", Arial, Helvetica, sans-serif' fill="#000">
<text transform="translate(274.4 1389.9) scale(0.96 1)" font-size="66.5" text-anchor="end">0</text>
<text transform="translate(274.4 1225.8) scale(0.96 1)" font-size="66.5" text-anchor="end">1000</text>
<text transform="translate(274.4 1061.7) scale(0.96 1)" font-size="66.5" text-anchor="end">2000</text>
<text transform="translate(274.4 897.6) scale(0.96 1)" font-size="66.5" text-anchor="end">3000</text>
<text transform="translate(274.4 733.5) scale(0.96 1)" font-size="66.5" text-anchor="end">4000</text>
<text transform="translate(274.4 569.4) scale(0.96 1)" font-size="66.5" text-anchor="end">5000</text>
<text transform="translate(274.4 405.3) scale(0.96 1)" font-size="66.5" text-anchor="end">6000</text>
<text transform="translate(274.4 241.2) scale(0.96 1)" font-size="66.5" text-anchor="end">7000</text>
<text transform="translate(274.4 77.1) scale(0.96 1)" font-size="66.5" text-anchor="end">8000</text>
<text transform="translate(320.2 1466.2) scale(0.96 1)" font-size="66.5" text-anchor="middle">30</text>
<text transform="translate(677.3 1466.2) scale(0.96 1)" font-size="66.5" text-anchor="middle">32</text>
<text transform="translate(1034.5 1466.2) scale(0.96 1)" font-size="66.5" text-anchor="middle">34</text>
<text transform="translate(1391.6 1466.2) scale(0.96 1)" font-size="66.5" text-anchor="middle">36</text>
<text transform="translate(1748.8 1466.2) scale(0.96 1)" font-size="66.5" text-anchor="middle">38</text>
<text transform="translate(2105.9 1466.2) scale(0.96 1)" font-size="66.5" text-anchor="middle">40</text>
<text transform="translate(1061.3 1551.1) scale(0.95 1)" font-size="74">m/z / kDa</text>
<text transform="translate(83.3 956.7) rotate(-90) scale(0.994 1)" font-size="71">detector intensity</text>
</g>
<g fill="none" stroke-linecap="butt">
<line x1="340.5" y1="124.2" x2="473" y2="124.2" stroke="#808080" stroke-width="5.2"/>
<line x1="340.8" y1="196" x2="460" y2="196" stroke="#808080" stroke-width="4.8" stroke-dasharray="23.4 23.9"/>
<line x1="340.5" y1="267.6" x2="473" y2="267.6" stroke="#000" stroke-width="6"/>
<line x1="340.6" y1="338" x2="460" y2="338" stroke="#000" stroke-width="5" stroke-dasharray="19.5 13.2"/>
</g>
<g font-family='"Liberation Sans", Arial, Helvetica, sans-serif' fill="#000" font-size="53.5">
<text transform="translate(484.8 145) scale(0.972 1)">CaLB-degl</text>
<text transform="translate(484.8 215.5) scale(0.965 1)">CaLB-degl-lid</text>
<text transform="translate(484.8 285.9) scale(0.968 1)">CaLB-wt</text>
<text transform="translate(484.8 357.4) scale(0.965 1)">CaLB-wt-lid</text>
</g>
<g stroke-linecap="butt">
<line x1="1159.3" y1="232" x2="1488.7" y2="232" stroke="#000" stroke-width="5.5"/>
<line x1="1159.3" y1="222.5" x2="1159.3" y2="241.5" stroke="#000" stroke-width="6"/>
<line x1="1488.7" y1="222.5" x2="1488.7" y2="241.5" stroke="#000" stroke-width="6"/>
<line x1="945" y1="335.8" x2="1275.8" y2="335.8" stroke="#000" stroke-width="5.5"/>
<line x1="945" y1="326.3" x2="945" y2="345.3" stroke="#000" stroke-width="6"/>
<line x1="1275.8" y1="326.3" x2="1275.8" y2="345.3" stroke="#000" stroke-width="6"/>
<line x1="950" y1="496.3" x2="1153.8" y2="496.3" stroke="#000" stroke-width="5.5"/>
<line x1="950" y1="486.8" x2="950" y2="505.8" stroke="#000" stroke-width="6"/>
<line x1="1153.8" y1="486.8" x2="1153.8" y2="505.8" stroke="#000" stroke-width="6"/>
<line x1="1276.6" y1="764.2" x2="1490.8" y2="764.2" stroke="#000" stroke-width="5.5"/>
<line x1="1276.6" y1="754.7" x2="1276.6" y2="773.7" stroke="#000" stroke-width="6"/>
<line x1="1490.8" y1="754.7" x2="1490.8" y2="773.7" stroke="#000" stroke-width="6"/>
</g>
<g font-family='"Liberation Sans", Arial, Helvetica, sans-serif' fill="#000">
<text transform="translate(1189.2 210.9) scale(0.935 1)" font-size="54"><tspan font-size="48">Δ</tspan><tspan x="35.1"> =</tspan><tspan x="79.7"> 1.9 kDa</tspan></text>
<text transform="translate(993.6 316.0) scale(0.935 1)" font-size="54"><tspan font-size="48">Δ</tspan><tspan x="32.6"> =</tspan><tspan x="79.0"> 1.8 kDa</tspan></text>
<text transform="translate(656.6 505.0) scale(0.935 1)" font-size="54"><tspan font-size="48">Δ</tspan><tspan x="32.6"> =</tspan><tspan x="77.6"> 1.1 kDa</tspan></text>
<text transform="translate(1424.9 732.8) scale(0.935 1)" font-size="54"><tspan font-size="48">Δ</tspan><tspan x="33.9"> =</tspan><tspan x="80.4"> 1.2 kDa</tspan></text>
</g>
</g>
</svg></body></html>
